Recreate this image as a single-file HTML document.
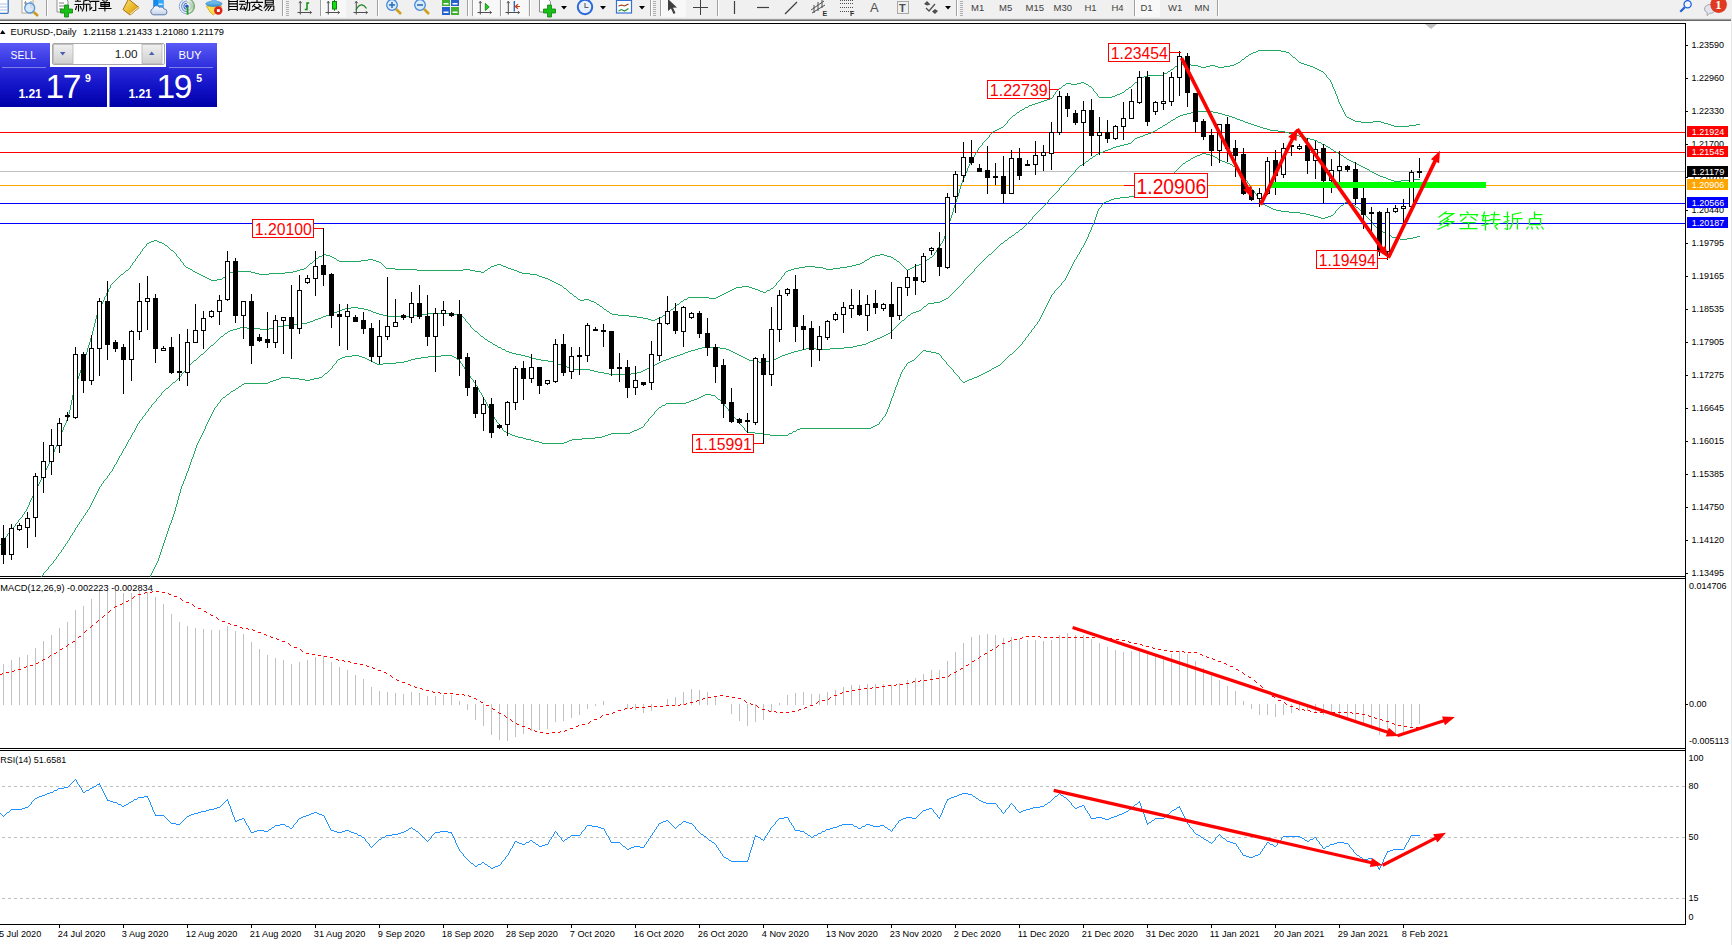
<!DOCTYPE html>
<html><head><meta charset="utf-8"><title>EURUSD Daily</title>
<style>
html,body{margin:0;padding:0;background:#fff;overflow:hidden}
svg{display:block;font-family:"Liberation Sans",sans-serif}
</style></head><body>
<svg width="1732" height="945" viewBox="0 0 1732 945">
<rect x="0" y="0" width="1732" height="945" fill="#fff" />
<rect x="0" y="0" width="1732" height="18" fill="#f0f0f0" />
<rect x="0" y="18" width="1731" height="1" fill="#e3e3e3" />
<rect x="0" y="19" width="1731" height="1" fill="#a0a0a0" />
<rect x="0" y="20" width="1731" height="1" fill="#696969" />
<rect x="1731" y="18" width="1" height="927" fill="#e8e8e8" />
<g shape-rendering="crispEdges">
<rect x="0" y="23" width="1686" height="1" fill="#000" />
<rect x="0" y="576" width="1686" height="1" fill="#000" />
<rect x="0" y="578" width="1686" height="1" fill="#000" />
<rect x="0" y="748" width="1686" height="1" fill="#000" />
<rect x="0" y="750" width="1686" height="1" fill="#000" />
<rect x="0" y="924" width="1686" height="1" fill="#000" />
<rect x="1685" y="23" width="1" height="902" fill="#000" />
<rect x="0" y="132" width="1685" height="1" fill="#ff0000" />
<rect x="0" y="152" width="1685" height="1" fill="#ff0000" />
<rect x="0" y="171" width="1685" height="1" fill="#c0c0c0" />
<rect x="0" y="185" width="1685" height="1" fill="#ffa500" />
<rect x="0" y="203" width="1685" height="1" fill="#0000ff" />
<rect x="0" y="223" width="1685" height="1" fill="#0000ff" />
</g>
<g shape-rendering="crispEdges">
<path d="M0.5,544v1M1.5,542v2M2.5,541v1M3.5,540v1M4.5,538v2M5.5,537v1M6.5,536v1M7.5,534v2M8.5,533v1M9.5,532v1M10.5,531v1M11.5,529v2M12.5,528v1M13.5,527v1M14.5,526v1M15.5,524v2M16.5,523v1M17.5,522v1M18.5,520v2M19.5,519v1M20.5,518v1M21.5,517v1M22.5,515v2M23.5,514v1M24.5,512v2M25.5,511v1M26.5,509v2M27.5,507v2M28.5,505v2M29.5,502v3M30.5,500v2M31.5,498v2M32.5,496v2M33.5,494v2M34.5,492v2M35.5,490v2M36.5,488v2M37.5,486v2M38.5,484v2M39.5,482v2M40.5,480v2M41.5,478v2M42.5,476v2M43.5,474v2M44.5,472v2M45.5,470v2M46.5,468v2M47.5,466v2M48.5,464v2M49.5,462v2M50.5,459v3M51.5,457v2M52.5,454v3M53.5,452v2M54.5,449v3M55.5,447v2M56.5,445v2M57.5,442v3M58.5,440v2M59.5,437v3M60.5,435v2M61.5,432v3M62.5,430v2M63.5,427v3M64.5,425v2M65.5,423v2M66.5,420v3M67.5,418v2M68.5,414v4M69.5,410v4M70.5,405v5M71.5,400v5M72.5,395v5M73.5,391v4M74.5,387v4M75.5,384v3M76.5,382v2M77.5,379v3M78.5,376v3M79.5,373v3M80.5,370v3M81.5,368v2M82.5,365v3M83.5,362v3M84.5,358v4M85.5,355v3M86.5,352v3M87.5,348v4M88.5,345v3M89.5,342v3M90.5,338v4M91.5,335v3M92.5,331v4M93.5,327v4M94.5,323v4M95.5,319v4M96.5,315v4M97.5,312v3M98.5,310v2M99.5,308v2M100.5,306v2M101.5,304v2M102.5,302v2M103.5,300v2M104.5,297v3M105.5,296v1M106.5,293v3M107.5,292v1M108.5,289v3M109.5,288v1M110.5,285v3M111.5,284v1M112.5,283v1M113.5,282v1M114.5,281v1M115.5,280v1M116.5,279v1M117.5,278v1M118.5,277v1M119.5,276v1M120.5,275v1M123.5,273v1M124.5,272v1M125.5,271v1M128.5,269v1M129.5,268v1M130.5,266v2M131.5,265v1M132.5,263v2M133.5,262v1M134.5,261v1M135.5,259v2M136.5,258v1M137.5,256v2M138.5,255v1M139.5,254v1M140.5,252v2M141.5,251v1M142.5,249v2M143.5,248v1M144.5,247v1M145.5,246v1M146.5,244v2M164.5,244v1M167.5,246v1M168.5,247v1M169.5,248v1M170.5,249v1M173.5,251v1M174.5,252v1M175.5,253v1M176.5,254v2M177.5,256v1M178.5,257v1M179.5,258v1M180.5,259v2M181.5,261v1M182.5,262v1M183.5,263v2M184.5,265v1M185.5,266v1M192.5,270v1M222.5,278v1M225.5,276v1M226.5,275v1M229.5,273v1M306.5,267v1M307.5,266v1M308.5,265v1M309.5,264v1M312.5,262v1M313.5,261v1M314.5,260v1M315.5,259v1M318.5,257v1M322.5,255v1M336.5,259v1M381.5,263v1M382.5,264v1M383.5,265v1M384.5,266v1M385.5,267v1M484.5,271v1M487.5,269v1M490.5,267v1M562.5,286v1M563.5,287v1M566.5,289v1M567.5,290v1M568.5,291v1M569.5,292v1M572.5,294v1M573.5,295v1M576.5,297v1M577.5,298v1M596.5,303v1M599.5,305v1M602.5,307v1M603.5,308v1M606.5,310v1M609.5,312v1M662.5,316v1M665.5,314v1M668.5,312v1M669.5,311v1M670.5,310v1M673.5,308v1M674.5,307v1M675.5,306v1M676.5,305v1M679.5,303v1M680.5,302v1M683.5,300v1M687.5,298v1M766.5,291v1M770.5,289v1M773.5,287v1M774.5,286v1M775.5,285v1M776.5,283v2M777.5,282v1M778.5,281v1M779.5,280v1M780.5,279v1M781.5,277v2M782.5,276v1M783.5,275v1M784.5,273v2M785.5,272v1M864.5,261v1M869.5,258v1M893.5,258v1M896.5,260v1M899.5,262v1M900.5,263v1M901.5,264v1M902.5,265v1M903.5,266v1M904.5,267v1M905.5,268v1M906.5,269v1M907.5,270v1M925.5,261v1M926.5,260v1M929.5,258v1M932.5,256v1M933.5,255v1M934.5,253v2M935.5,252v1M936.5,250v2M937.5,249v1M938.5,247v2M939.5,246v1M940.5,244v2M941.5,243v1M942.5,241v2M943.5,239v2M944.5,236v3M945.5,233v3M946.5,230v3M947.5,227v3M948.5,224v3M949.5,221v3M950.5,218v3M951.5,215v3M952.5,212v3M953.5,208v4M954.5,205v3M955.5,202v3M956.5,199v3M957.5,196v3M958.5,193v3M959.5,189v4M960.5,186v3M961.5,183v3M962.5,180v3M963.5,178v2M964.5,175v3M965.5,173v2M966.5,171v2M967.5,168v3M968.5,166v2M969.5,164v2M970.5,162v2M971.5,160v2M972.5,159v1M973.5,157v2M974.5,155v2M975.5,153v2M976.5,152v1M977.5,150v2M978.5,148v2M979.5,147v1M980.5,146v1M981.5,145v1M982.5,143v2M983.5,142v1M984.5,141v1M985.5,140v1M986.5,139v1M987.5,138v1M988.5,137v1M989.5,135v2M990.5,134v1M991.5,133v1M992.5,132v1M1003.5,126v1M1004.5,125v1M1005.5,124v1M1006.5,123v1M1007.5,121v2M1008.5,120v1M1009.5,119v1M1010.5,118v1M1011.5,117v1M1012.5,116v1M1015.5,114v1M1016.5,113v1M1019.5,111v1M1024.5,108v1M1028.5,106v1M1052.5,97v1M1053.5,95v2M1054.5,94v1M1055.5,92v2M1056.5,91v1M1057.5,90v1M1058.5,89v1M1061.5,87v1M1062.5,86v1M1065.5,84v1M1088.5,85v1M1091.5,87v1M1092.5,88v1M1093.5,89v2M1094.5,91v1M1095.5,92v1M1096.5,93v1M1097.5,94v2M1098.5,96v1M1124.5,91v1M1125.5,90v1M1128.5,88v1M1131.5,86v1M1132.5,85v1M1133.5,84v1M1134.5,83v1M1137.5,81v1M1138.5,80v1M1139.5,79v1M1163.5,74v1M1167.5,72v1M1170.5,70v1M1173.5,68v1M1174.5,67v1M1177.5,65v1M1240.5,61v1M1241.5,60v1M1244.5,58v1M1245.5,57v1M1248.5,55v1M1289.5,53v1M1290.5,54v1M1291.5,55v1M1292.5,56v1M1295.5,58v1M1296.5,59v1M1297.5,60v1M1298.5,61v1M1323.5,72v1M1324.5,73v1M1325.5,74v1M1326.5,75v2M1327.5,77v1M1328.5,78v1M1329.5,79v1M1330.5,80v2M1331.5,82v2M1332.5,84v3M1333.5,87v2M1334.5,89v2M1335.5,91v3M1336.5,94v2M1337.5,96v3M1338.5,99v3M1339.5,102v2M1340.5,104v2M1341.5,106v2M1342.5,108v2M1343.5,110v2M1344.5,112v2M1345.5,114v2M1346.5,116v1M1258,50.5h23M1256,51.5h2M1281,51.5h5M1253,52.5h3M1286,52.5h3M1251,53.5h2M1249,54.5h2M1246,56.5h2M1293,57.5h2M1242,59.5h2M1238,62.5h2M1299,62.5h2M1236,63.5h2M1301,63.5h3M1178,64.5h13M1234,64.5h2M1304,64.5h3M1191,65.5h7M1210,65.5h5M1230,65.5h4M1307,65.5h3M1175,66.5h2M1198,66.5h3M1206,66.5h4M1215,66.5h3M1224,66.5h6M1310,66.5h3M1201,67.5h5M1218,67.5h6M1313,67.5h2M1315,68.5h2M1171,69.5h2M1317,69.5h2M1319,70.5h2M1168,71.5h2M1321,71.5h2M1164,73.5h3M1147,75.5h16M1144,76.5h3M1142,77.5h2M1140,78.5h2M1081,82.5h3M1135,82.5h2M1066,83.5h5M1077,83.5h4M1084,83.5h2M1071,84.5h6M1086,84.5h2M1063,85.5h2M1089,86.5h2M1129,87.5h2M1059,88.5h2M1126,89.5h2M1122,92.5h2M1120,93.5h2M1117,94.5h3M1115,95.5h2M1112,96.5h3M1099,97.5h13M1050,98.5h2M1047,99.5h3M1044,100.5h3M1041,101.5h3M1038,102.5h3M1035,103.5h3M1032,104.5h3M1029,105.5h3M1025,107.5h3M1022,109.5h2M1020,110.5h2M1017,112.5h2M1013,115.5h2M1347,117.5h2M1349,118.5h2M1351,119.5h2M1353,120.5h2M1355,121.5h6M1373,121.5h8M1361,122.5h12M1381,122.5h3M1384,123.5h4M1388,124.5h3M1416,124.5h4M1391,125.5h3M1409,125.5h7M1394,126.5h15M1001,127.5h2M999,128.5h2M997,129.5h2M995,130.5h2M993,131.5h2M154,240.5h3M151,241.5h3M157,241.5h2M149,242.5h2M159,242.5h3M147,243.5h2M162,243.5h2M165,245.5h2M171,250.5h2M323,254.5h3M880,254.5h4M326,255.5h4M875,255.5h5M884,255.5h3M319,256.5h3M330,256.5h2M872,256.5h3M887,256.5h4M332,257.5h2M870,257.5h2M891,257.5h2M930,257.5h2M316,258.5h2M334,258.5h2M368,259.5h5M867,259.5h2M894,259.5h2M927,259.5h2M337,260.5h2M361,260.5h7M373,260.5h3M865,260.5h2M339,261.5h22M376,261.5h3M897,261.5h2M379,262.5h2M862,262.5h2M923,262.5h2M310,263.5h2M860,263.5h2M921,263.5h2M497,264.5h4M856,264.5h4M919,264.5h2M494,265.5h3M501,265.5h2M852,265.5h4M916,265.5h3M491,266.5h3M503,266.5h3M805,266.5h10M847,266.5h5M914,266.5h2M186,267.5h2M506,267.5h2M799,267.5h6M815,267.5h8M840,267.5h7M912,267.5h2M188,268.5h2M304,268.5h2M386,268.5h9M488,268.5h2M508,268.5h3M794,268.5h5M823,268.5h3M833,268.5h7M910,268.5h2M190,269.5h2M300,269.5h4M395,269.5h22M463,269.5h7M511,269.5h3M791,269.5h3M826,269.5h7M908,269.5h2M126,270.5h2M297,270.5h3M417,270.5h46M470,270.5h5M485,270.5h2M514,270.5h3M788,270.5h3M193,271.5h2M235,271.5h16M293,271.5h4M475,271.5h6M517,271.5h2M786,271.5h2M195,272.5h2M230,272.5h5M251,272.5h4M285,272.5h8M481,272.5h3M519,272.5h3M197,273.5h2M255,273.5h4M269,273.5h16M522,273.5h8M121,274.5h2M199,274.5h2M227,274.5h2M259,274.5h10M530,274.5h7M201,275.5h2M537,275.5h2M203,276.5h2M539,276.5h3M205,277.5h2M223,277.5h2M542,277.5h3M207,278.5h2M545,278.5h3M209,279.5h2M217,279.5h5M548,279.5h2M211,280.5h6M550,280.5h2M552,281.5h2M554,282.5h2M556,283.5h2M558,284.5h2M560,285.5h2M742,286.5h7M736,287.5h6M749,287.5h3M564,288.5h2M734,288.5h2M752,288.5h3M771,288.5h2M732,289.5h2M755,289.5h3M730,290.5h2M758,290.5h2M767,290.5h3M728,291.5h2M760,291.5h3M726,292.5h2M763,292.5h3M570,293.5h2M724,293.5h2M722,294.5h2M720,295.5h2M574,296.5h2M718,296.5h2M688,297.5h21M716,297.5h2M709,298.5h7M578,299.5h2M584,299.5h5M684,299.5h3M580,300.5h4M589,300.5h2M591,301.5h3M681,301.5h2M594,302.5h2M597,304.5h2M677,304.5h2M600,306.5h2M604,309.5h2M671,309.5h2M607,311.5h2M610,313.5h2M666,313.5h2M612,314.5h6M618,315.5h11M663,315.5h2M629,316.5h8M637,317.5h6M660,317.5h2M643,318.5h5M657,318.5h3M648,319.5h3M655,319.5h2M651,320.5h4" fill="none" stroke="#23a862" stroke-width="1"/>
<path d="M41.5,576v1M42.5,575v1M43.5,573v2M44.5,572v1M45.5,571v1M46.5,570v1M47.5,569v1M48.5,567v2M49.5,566v1M50.5,565v1M51.5,564v1M52.5,563v1M53.5,561v2M54.5,560v1M55.5,559v1M56.5,557v2M57.5,556v1M58.5,554v2M59.5,553v1M60.5,552v1M61.5,550v2M62.5,549v1M63.5,547v2M64.5,546v1M65.5,544v2M66.5,543v1M67.5,541v2M68.5,540v1M69.5,538v2M70.5,536v2M71.5,535v1M72.5,533v2M73.5,532v1M74.5,530v2M75.5,528v2M76.5,527v1M77.5,525v2M78.5,524v1M79.5,522v2M80.5,521v1M81.5,519v2M82.5,518v1M83.5,516v2M84.5,515v1M85.5,513v2M86.5,512v1M87.5,510v2M88.5,509v1M89.5,507v2M90.5,505v2M91.5,503v2M92.5,501v2M93.5,499v2M94.5,497v2M95.5,495v2M96.5,493v2M97.5,491v2M98.5,489v2M99.5,487v2M100.5,486v1M101.5,484v2M102.5,483v1M103.5,481v2M104.5,480v1M105.5,479v1M106.5,478v1M107.5,476v2M108.5,475v1M109.5,473v2M110.5,472v1M111.5,471v1M112.5,469v2M113.5,467v2M114.5,465v2M115.5,464v1M116.5,462v2M117.5,460v2M118.5,458v2M119.5,456v2M120.5,455v1M121.5,453v2M122.5,451v2M123.5,449v2M124.5,448v1M125.5,446v2M126.5,444v2M127.5,442v2M128.5,440v2M129.5,439v1M130.5,437v2M131.5,435v2M132.5,433v2M133.5,432v1M134.5,430v2M135.5,428v2M136.5,426v2M137.5,424v2M138.5,423v1M139.5,421v2M140.5,420v1M141.5,419v1M142.5,417v2M143.5,416v1M144.5,415v1M145.5,413v2M146.5,412v1M147.5,411v1M148.5,409v2M149.5,408v1M150.5,407v1M151.5,405v2M152.5,404v1M153.5,403v1M154.5,402v1M155.5,401v1M156.5,399v2M157.5,398v1M158.5,397v1M159.5,396v1M160.5,395v1M161.5,393v2M162.5,392v1M163.5,391v1M164.5,390v1M165.5,389v1M168.5,387v1M169.5,386v1M170.5,385v1M171.5,384v1M172.5,383v1M175.5,381v1M176.5,380v1M177.5,379v1M178.5,378v1M179.5,377v1M180.5,376v1M181.5,374v2M182.5,373v1M183.5,372v1M184.5,371v1M185.5,370v1M186.5,369v1M187.5,367v2M188.5,366v1M189.5,365v1M190.5,364v1M191.5,363v1M192.5,362v1M193.5,361v1M196.5,359v1M197.5,358v1M198.5,357v1M199.5,356v1M200.5,355v1M203.5,353v1M204.5,352v1M205.5,351v1M206.5,350v1M207.5,349v1M208.5,348v1M209.5,347v1M210.5,346v1M213.5,344v1M214.5,343v1M215.5,342v1M216.5,341v1M217.5,340v1M218.5,339v1M219.5,338v1M220.5,337v1M223.5,335v1M224.5,334v1M227.5,332v1M463.5,317v1M464.5,318v1M465.5,319v2M466.5,321v1M467.5,322v1M468.5,323v1M469.5,324v1M470.5,325v2M471.5,327v1M472.5,328v1M473.5,329v1M474.5,330v1M477.5,332v1M478.5,333v1M479.5,334v1M480.5,335v1M483.5,337v1M484.5,338v1M487.5,340v1M492.5,343v1M497.5,346v1M501.5,348v1M505.5,350v1M890.5,332v1M891.5,331v1M892.5,330v1M893.5,329v1M894.5,328v1M895.5,327v1M896.5,326v1M897.5,325v1M898.5,324v1M899.5,323v1M900.5,322v1M901.5,321v1M904.5,319v1M905.5,318v1M906.5,317v1M907.5,316v1M910.5,314v1M921.5,309v1M922.5,308v1M923.5,307v1M926.5,305v1M927.5,304v1M948.5,297v1M949.5,296v1M950.5,295v1M951.5,294v1M952.5,293v1M953.5,292v1M954.5,291v1M955.5,290v1M956.5,289v1M957.5,288v1M958.5,287v1M959.5,286v1M960.5,285v1M961.5,284v1M962.5,283v1M963.5,281v2M964.5,280v1M965.5,279v1M966.5,278v1M967.5,277v1M968.5,276v1M969.5,275v1M970.5,274v1M971.5,273v1M972.5,272v1M973.5,271v1M974.5,269v2M975.5,268v1M976.5,267v1M977.5,266v1M978.5,265v1M979.5,264v1M980.5,263v1M981.5,262v1M982.5,261v1M983.5,260v1M984.5,259v1M985.5,258v1M986.5,257v1M987.5,256v1M988.5,255v1M991.5,253v1M992.5,252v1M993.5,251v1M994.5,250v1M995.5,249v1M996.5,248v1M997.5,247v1M998.5,246v1M999.5,245v1M1000.5,244v1M1003.5,242v1M1004.5,241v1M1007.5,239v1M1008.5,238v1M1011.5,236v1M1014.5,234v1M1015.5,233v1M1018.5,231v1M1019.5,230v1M1022.5,228v1M1023.5,227v1M1024.5,226v1M1025.5,225v1M1026.5,224v1M1027.5,223v1M1028.5,222v1M1029.5,221v1M1030.5,220v1M1031.5,219v1M1032.5,217v2M1033.5,216v1M1034.5,215v1M1035.5,214v1M1036.5,213v1M1037.5,212v1M1038.5,211v1M1039.5,210v1M1040.5,209v1M1041.5,208v1M1042.5,207v1M1043.5,206v1M1044.5,205v1M1045.5,204v1M1046.5,203v1M1047.5,202v1M1048.5,200v2M1049.5,199v1M1050.5,198v1M1051.5,197v1M1052.5,196v1M1053.5,195v1M1054.5,194v1M1055.5,193v1M1056.5,192v1M1057.5,191v1M1058.5,190v1M1059.5,188v2M1060.5,187v1M1061.5,186v1M1062.5,185v1M1063.5,184v1M1064.5,183v1M1065.5,182v1M1066.5,181v1M1067.5,180v1M1068.5,178v2M1069.5,177v1M1070.5,176v1M1071.5,175v1M1072.5,174v1M1073.5,173v1M1074.5,172v1M1075.5,170v2M1076.5,169v1M1077.5,168v1M1078.5,167v1M1079.5,166v1M1082.5,164v1M1085.5,162v1M1088.5,160v1M1089.5,159v1M1092.5,157v1M1095.5,155v1M1131.5,142v1M1132.5,141v1M1133.5,140v1M1134.5,139v1M1157.5,129v1M1162.5,126v1M1167.5,123v1M1170.5,121v1M1175.5,118v1M1317.5,141v1M1321.5,143v1M1325.5,145v1M1330.5,148v1M1333.5,150v1M1338.5,153v1M1343.5,156v1M1346.5,158v1M1369.5,170v1M1197,111.5h16M1191,112.5h6M1213,112.5h5M1187,113.5h4M1218,113.5h4M1183,114.5h4M1222,114.5h3M1180,115.5h3M1225,115.5h4M1178,116.5h2M1229,116.5h3M1176,117.5h2M1232,117.5h3M1235,118.5h2M1173,119.5h2M1237,119.5h3M1171,120.5h2M1240,120.5h3M1243,121.5h2M1168,122.5h2M1245,122.5h3M1248,123.5h3M1165,124.5h2M1251,124.5h3M1163,125.5h2M1254,125.5h3M1257,126.5h3M1160,127.5h2M1260,127.5h3M1158,128.5h2M1263,128.5h4M1267,129.5h3M1155,130.5h2M1270,130.5h8M1153,131.5h2M1278,131.5h7M1151,132.5h2M1285,132.5h4M1148,133.5h3M1289,133.5h3M1145,134.5h3M1292,134.5h4M1143,135.5h2M1296,135.5h3M1140,136.5h3M1299,136.5h4M1137,137.5h3M1303,137.5h3M1135,138.5h2M1306,138.5h4M1310,139.5h4M1314,140.5h3M1318,142.5h3M1128,143.5h3M1124,144.5h4M1322,144.5h3M1120,145.5h4M1116,146.5h4M1326,146.5h2M1113,147.5h3M1328,147.5h2M1111,148.5h2M1108,149.5h3M1331,149.5h2M1105,150.5h3M1103,151.5h2M1334,151.5h2M1100,152.5h3M1336,152.5h2M1098,153.5h2M1096,154.5h2M1339,154.5h2M1341,155.5h2M1093,156.5h2M1344,157.5h2M1090,158.5h2M1347,159.5h2M1349,160.5h2M1086,161.5h2M1351,161.5h2M1353,162.5h2M1083,163.5h2M1355,163.5h2M1357,164.5h2M1080,165.5h2M1359,165.5h2M1361,166.5h2M1363,167.5h2M1365,168.5h2M1367,169.5h2M1370,171.5h2M1372,172.5h2M1374,173.5h2M1376,174.5h2M1378,175.5h2M1380,176.5h3M1383,177.5h3M1386,178.5h2M1388,179.5h3M1413,179.5h7M1391,180.5h3M1401,180.5h12M1394,181.5h7M1020,229.5h2M1016,232.5h2M1012,235.5h2M1009,237.5h2M1005,240.5h2M1001,243.5h2M989,254.5h2M946,298.5h2M944,299.5h2M942,300.5h2M940,301.5h2M934,302.5h6M928,303.5h6M924,306.5h2M351,307.5h7M345,308.5h6M358,308.5h6M342,309.5h3M364,309.5h4M340,310.5h2M368,310.5h3M919,310.5h2M337,311.5h3M371,311.5h2M916,311.5h3M334,312.5h3M373,312.5h3M913,312.5h3M331,313.5h3M376,313.5h3M427,313.5h26M911,313.5h2M329,314.5h2M379,314.5h4M420,314.5h7M453,314.5h4M326,315.5h3M383,315.5h4M410,315.5h10M457,315.5h4M908,315.5h2M323,316.5h3M387,316.5h23M461,316.5h2M321,317.5h2M318,318.5h3M315,319.5h3M313,320.5h2M902,320.5h2M310,321.5h3M307,322.5h3M300,323.5h7M291,324.5h9M284,325.5h7M278,326.5h6M240,327.5h7M273,327.5h5M237,328.5h3M247,328.5h13M269,328.5h4M233,329.5h4M260,329.5h9M230,330.5h3M228,331.5h2M475,331.5h2M225,333.5h2M888,333.5h2M886,334.5h2M884,335.5h2M221,336.5h2M481,336.5h2M882,336.5h2M880,337.5h2M877,338.5h3M485,339.5h2M875,339.5h2M873,340.5h2M488,341.5h2M870,341.5h3M490,342.5h2M868,342.5h2M866,343.5h2M493,344.5h2M862,344.5h4M211,345.5h2M495,345.5h2M857,345.5h5M853,346.5h4M498,347.5h3M702,347.5h18M844,347.5h9M698,348.5h4M720,348.5h6M806,348.5h10M830,348.5h14M502,349.5h3M695,349.5h3M726,349.5h3M802,349.5h4M816,349.5h14M691,350.5h4M729,350.5h2M798,350.5h4M506,351.5h3M688,351.5h3M731,351.5h2M794,351.5h4M509,352.5h3M685,352.5h3M733,352.5h2M791,352.5h3M512,353.5h4M683,353.5h2M735,353.5h2M788,353.5h3M201,354.5h2M516,354.5h5M680,354.5h3M737,354.5h2M785,354.5h3M521,355.5h4M677,355.5h3M739,355.5h2M782,355.5h3M525,356.5h4M674,356.5h3M741,356.5h2M780,356.5h2M529,357.5h3M671,357.5h3M743,357.5h2M778,357.5h2M532,358.5h4M669,358.5h2M745,358.5h2M776,358.5h2M536,359.5h5M666,359.5h3M747,359.5h2M774,359.5h2M194,360.5h2M541,360.5h7M663,360.5h3M749,360.5h4M770,360.5h4M548,361.5h5M661,361.5h2M753,361.5h6M764,361.5h6M553,362.5h3M659,362.5h2M759,362.5h5M556,363.5h2M657,363.5h2M558,364.5h3M655,364.5h2M561,365.5h3M653,365.5h2M564,366.5h3M651,366.5h2M567,367.5h2M649,367.5h2M569,368.5h3M647,368.5h2M572,369.5h18M645,369.5h2M590,370.5h4M643,370.5h2M594,371.5h4M641,371.5h2M598,372.5h6M637,372.5h4M604,373.5h5M631,373.5h6M609,374.5h22M173,382.5h2M166,388.5h2" fill="none" stroke="#23a862" stroke-width="1"/>
<path d="M150.5,575v2M151.5,573v2M152.5,571v2M153.5,569v2M154.5,567v2M155.5,565v2M156.5,563v2M157.5,561v2M158.5,558v3M159.5,555v3M160.5,552v3M161.5,549v3M162.5,546v3M163.5,543v3M164.5,540v3M165.5,537v3M166.5,534v3M167.5,531v3M168.5,528v3M169.5,525v3M170.5,523v2M171.5,520v3M172.5,517v3M173.5,514v3M174.5,511v3M175.5,507v4M176.5,504v3M177.5,500v4M178.5,496v4M179.5,493v3M180.5,489v4M181.5,486v3M182.5,484v2M183.5,481v3M184.5,479v2M185.5,476v3M186.5,473v3M187.5,471v2M188.5,468v3M189.5,465v3M190.5,462v3M191.5,459v3M192.5,457v2M193.5,454v3M194.5,451v3M195.5,448v3M196.5,445v3M197.5,443v2M198.5,441v2M199.5,439v2M200.5,437v2M201.5,435v2M202.5,433v2M203.5,431v2M204.5,429v2M205.5,426v3M206.5,424v2M207.5,422v2M208.5,420v2M209.5,418v2M210.5,416v2M211.5,414v2M212.5,412v2M213.5,410v2M214.5,408v2M215.5,407v1M216.5,406v1M217.5,404v2M218.5,403v1M219.5,402v1M220.5,400v2M221.5,399v1M222.5,398v1M225.5,396v1M226.5,395v1M229.5,393v1M230.5,392v1M235.5,389v1M238.5,387v1M241.5,385v1M322.5,376v1M323.5,375v1M324.5,374v1M327.5,372v1M328.5,371v1M329.5,370v1M330.5,369v1M331.5,368v1M332.5,366v2M333.5,365v1M334.5,364v1M335.5,363v1M336.5,361v2M337.5,360v1M456.5,358v1M459.5,360v1M460.5,361v2M461.5,363v1M462.5,364v2M463.5,366v1M464.5,367v2M465.5,369v1M466.5,370v2M467.5,372v1M468.5,373v2M469.5,375v1M470.5,376v2M471.5,378v1M472.5,379v1M473.5,380v2M474.5,382v1M475.5,383v2M476.5,385v1M477.5,386v2M478.5,388v2M479.5,390v2M480.5,392v1M481.5,393v2M482.5,395v2M483.5,397v2M484.5,399v1M485.5,400v2M486.5,402v2M487.5,404v2M488.5,406v2M489.5,408v1M490.5,409v2M491.5,411v2M492.5,413v2M493.5,415v2M494.5,417v2M495.5,419v1M496.5,420v2M497.5,422v1M498.5,423v1M499.5,424v2M500.5,426v1M501.5,427v1M502.5,428v2M503.5,430v1M643.5,426v1M644.5,424v2M645.5,423v1M646.5,422v1M647.5,421v1M648.5,419v2M649.5,418v1M650.5,417v1M651.5,416v1M652.5,415v1M653.5,414v1M654.5,412v2M655.5,411v1M656.5,410v1M657.5,409v1M658.5,408v1M661.5,406v1M665.5,404v1M715.5,396v1M716.5,397v1M717.5,398v1M720.5,400v1M721.5,401v1M722.5,402v1M723.5,403v1M724.5,404v2M725.5,406v1M726.5,407v1M727.5,408v1M728.5,409v2M729.5,411v1M730.5,412v1M731.5,413v1M732.5,414v2M733.5,416v1M734.5,417v1M735.5,418v1M736.5,419v1M737.5,420v1M738.5,421v2M739.5,423v1M740.5,424v1M741.5,425v1M742.5,426v1M743.5,427v1M744.5,428v2M745.5,430v1M746.5,431v1M788.5,434v1M792.5,432v1M796.5,430v1M879.5,422v2M880.5,421v1M881.5,420v1M882.5,418v2M883.5,417v1M884.5,416v1M885.5,414v2M886.5,412v2M887.5,409v3M888.5,407v2M889.5,404v3M890.5,401v3M891.5,398v3M892.5,396v2M893.5,393v3M894.5,390v3M895.5,387v3M896.5,385v2M897.5,382v3M898.5,379v3M899.5,377v2M900.5,374v3M901.5,372v2M902.5,370v2M903.5,369v1M904.5,367v2M905.5,366v1M906.5,364v2M907.5,363v1M914.5,359v1M915.5,358v1M916.5,357v1M917.5,356v1M918.5,355v1M919.5,354v1M920.5,353v1M921.5,352v1M922.5,351v1M939.5,354v1M940.5,355v1M941.5,356v2M942.5,358v1M943.5,359v1M944.5,360v1M945.5,361v1M946.5,362v2M947.5,364v1M948.5,365v1M949.5,366v1M950.5,367v1M951.5,368v1M952.5,369v1M953.5,370v2M954.5,372v1M955.5,373v1M956.5,374v1M957.5,375v1M958.5,376v1M959.5,377v2M960.5,379v1M961.5,380v1M962.5,381v1M991.5,369v1M1000.5,364v1M1001.5,363v1M1002.5,362v1M1003.5,361v1M1004.5,360v1M1005.5,359v1M1006.5,358v1M1007.5,357v1M1008.5,356v1M1009.5,355v1M1012.5,353v1M1013.5,352v1M1014.5,351v1M1015.5,350v1M1016.5,349v1M1017.5,348v1M1018.5,347v1M1019.5,346v1M1020.5,345v1M1021.5,344v1M1022.5,342v2M1023.5,341v1M1024.5,340v1M1025.5,338v2M1026.5,337v1M1027.5,336v1M1028.5,334v2M1029.5,333v1M1030.5,332v1M1031.5,330v2M1032.5,329v1M1033.5,328v1M1034.5,326v2M1035.5,325v1M1036.5,324v1M1037.5,322v2M1038.5,321v1M1039.5,319v2M1040.5,317v2M1041.5,315v2M1042.5,313v2M1043.5,311v2M1044.5,309v2M1045.5,307v2M1046.5,305v2M1047.5,303v2M1048.5,301v2M1049.5,299v2M1050.5,297v2M1051.5,295v2M1052.5,294v1M1053.5,293v1M1054.5,291v2M1055.5,290v1M1056.5,289v1M1057.5,288v1M1058.5,287v1M1059.5,286v1M1060.5,285v1M1061.5,283v2M1062.5,282v1M1063.5,281v1M1064.5,280v1M1065.5,278v2M1066.5,276v2M1067.5,274v2M1068.5,272v2M1069.5,270v2M1070.5,268v2M1071.5,266v2M1072.5,264v2M1073.5,262v2M1074.5,260v2M1075.5,259v1M1076.5,257v2M1077.5,255v2M1078.5,254v1M1079.5,252v2M1080.5,250v2M1081.5,248v2M1082.5,247v1M1083.5,245v2M1084.5,243v2M1085.5,241v2M1086.5,239v2M1087.5,237v2M1088.5,234v3M1089.5,232v2M1090.5,230v2M1091.5,227v3M1092.5,225v2M1093.5,223v2M1094.5,220v3M1095.5,217v3M1096.5,214v3M1097.5,211v3M1098.5,209v2M1099.5,208v1M1100.5,207v1M1101.5,205v2M1102.5,204v1M1103.5,203v1M1151.5,189v1M1154.5,187v1M1157.5,185v1M1158.5,184v1M1159.5,183v1M1162.5,181v1M1165.5,179v1M1166.5,178v1M1167.5,177v1M1170.5,175v1M1173.5,173v1M1174.5,172v1M1175.5,171v1M1176.5,170v1M1177.5,169v1M1178.5,168v1M1179.5,167v1M1180.5,166v1M1181.5,165v1M1182.5,164v1M1185.5,162v1M1190.5,159v1M1217.5,158v1M1232.5,165v1M1235.5,167v1M1236.5,168v1M1237.5,169v1M1240.5,171v1M1241.5,172v1M1242.5,173v2M1243.5,175v1M1244.5,176v2M1245.5,178v2M1246.5,180v1M1247.5,181v2M1248.5,183v1M1249.5,184v2M1250.5,186v1M1251.5,187v2M1252.5,189v1M1253.5,190v1M1254.5,191v2M1255.5,193v1M1256.5,194v2M1257.5,196v1M1258.5,197v2M1259.5,199v1M1260.5,200v1M1261.5,201v2M1262.5,203v1M1333.5,214v1M1334.5,213v1M1335.5,211v2M1336.5,210v1M1337.5,209v1M1338.5,208v1M1339.5,207v1M1340.5,206v1M1343.5,204v1M1344.5,203v1M1352.5,204v1M1355.5,206v1M1358.5,208v1M1359.5,209v1M1360.5,210v1M1361.5,211v1M1362.5,212v1M1363.5,213v1M1364.5,214v1M1365.5,215v1M1366.5,216v1M1367.5,217v1M1368.5,218v1M1369.5,219v1M1370.5,220v1M1371.5,221v1M1372.5,222v2M1373.5,224v1M1374.5,225v1M1375.5,226v1M1376.5,227v1M1379.5,229v1M1382.5,231v1M1387.5,234v1M1391.5,236v1M1202,153.5h4M1200,154.5h2M1206,154.5h4M1197,155.5h3M1210,155.5h3M1195,156.5h2M1213,156.5h2M1193,157.5h2M1215,157.5h2M1191,158.5h2M1218,159.5h2M1188,160.5h2M1220,160.5h2M1186,161.5h2M1222,161.5h3M1225,162.5h2M1183,163.5h2M1227,163.5h3M1230,164.5h2M1233,166.5h2M1238,170.5h2M1171,174.5h2M1168,176.5h2M1163,180.5h2M1160,182.5h2M1155,186.5h2M1152,188.5h2M1149,190.5h2M1146,191.5h3M1143,192.5h3M1141,193.5h2M1138,194.5h3M1135,195.5h3M1129,196.5h6M1120,197.5h9M1114,198.5h6M1111,199.5h3M1109,200.5h2M1106,201.5h3M1104,202.5h2M1345,202.5h4M1349,203.5h3M1263,204.5h2M1265,205.5h2M1341,205.5h2M1353,205.5h2M1267,206.5h2M1269,207.5h2M1356,207.5h2M1271,208.5h2M1273,209.5h3M1276,210.5h5M1281,211.5h8M1289,212.5h11M1300,213.5h6M1306,214.5h4M1310,215.5h4M1331,215.5h2M1314,216.5h4M1328,216.5h3M1318,217.5h3M1325,217.5h3M1321,218.5h4M1377,228.5h2M1380,230.5h2M1383,232.5h2M1385,233.5h2M1388,235.5h3M1417,236.5h3M1392,237.5h4M1413,237.5h4M1396,238.5h4M1407,238.5h6M1400,239.5h7M923,350.5h3M926,351.5h5M931,352.5h5M936,353.5h3M1010,354.5h2M352,355.5h7M441,355.5h11M345,356.5h7M359,356.5h3M428,356.5h13M452,356.5h2M342,357.5h3M362,357.5h3M421,357.5h7M454,357.5h2M340,358.5h2M365,358.5h2M415,358.5h6M338,359.5h2M367,359.5h2M411,359.5h4M457,359.5h2M369,360.5h2M408,360.5h3M912,360.5h2M371,361.5h2M404,361.5h4M910,361.5h2M373,362.5h2M396,362.5h8M908,362.5h2M375,363.5h2M383,363.5h13M377,364.5h6M998,365.5h2M996,366.5h2M994,367.5h2M992,368.5h2M989,370.5h2M987,371.5h2M985,372.5h2M325,373.5h2M983,373.5h2M981,374.5h2M979,375.5h2M977,376.5h2M281,377.5h9M319,377.5h3M974,377.5h3M279,378.5h2M290,378.5h9M314,378.5h5M972,378.5h2M276,379.5h3M299,379.5h6M310,379.5h4M969,379.5h3M273,380.5h3M305,380.5h5M967,380.5h2M270,381.5h3M965,381.5h2M268,382.5h2M963,382.5h2M244,383.5h24M242,384.5h2M239,386.5h2M236,388.5h2M233,390.5h2M231,391.5h2M227,394.5h2M705,394.5h6M703,395.5h2M711,395.5h4M701,396.5h2M223,397.5h2M699,397.5h2M697,398.5h2M694,399.5h3M718,399.5h2M691,400.5h3M689,401.5h2M686,402.5h3M666,403.5h20M662,405.5h3M659,407.5h2M877,424.5h2M875,425.5h2M873,426.5h2M641,427.5h2M871,427.5h2M639,428.5h2M800,428.5h71M637,429.5h2M797,429.5h3M634,430.5h3M504,431.5h2M632,431.5h2M793,431.5h3M506,432.5h2M630,432.5h2M747,432.5h8M508,433.5h2M611,433.5h19M755,433.5h9M789,433.5h3M510,434.5h2M608,434.5h3M764,434.5h6M512,435.5h3M605,435.5h3M770,435.5h18M515,436.5h3M602,436.5h3M518,437.5h5M595,437.5h7M523,438.5h3M582,438.5h13M526,439.5h5M572,439.5h10M531,440.5h3M569,440.5h3M534,441.5h5M567,441.5h2M539,442.5h3M564,442.5h3M542,443.5h22" fill="none" stroke="#23a862" stroke-width="1"/>
</g>
<g shape-rendering="crispEdges">
<rect x="3" y="525" width="1" height="39" fill="#000" />
<rect x="1" y="538" width="5" height="17" fill="#000" />
<rect x="11" y="524" width="1" height="36" fill="#000" />
<rect x="9" y="528" width="5" height="27" fill="#000" />
<rect x="10" y="529" width="3" height="25" fill="#fff" />
<rect x="19" y="523" width="1" height="8" fill="#000" />
<rect x="17" y="525" width="5" height="5" fill="#000" />
<rect x="18" y="526" width="3" height="3" fill="#fff" />
<rect x="27" y="512" width="1" height="36" fill="#000" />
<rect x="25" y="518" width="5" height="10" fill="#000" />
<rect x="26" y="519" width="3" height="8" fill="#fff" />
<rect x="35" y="473" width="1" height="64" fill="#000" />
<rect x="33" y="476" width="5" height="42" fill="#000" />
<rect x="34" y="477" width="3" height="40" fill="#fff" />
<rect x="43" y="442" width="1" height="51" fill="#000" />
<rect x="41" y="461" width="5" height="17" fill="#000" />
<rect x="42" y="462" width="3" height="15" fill="#fff" />
<rect x="51" y="429" width="1" height="46" fill="#000" />
<rect x="49" y="445" width="5" height="17" fill="#000" />
<rect x="50" y="446" width="3" height="15" fill="#fff" />
<rect x="59" y="418" width="1" height="35" fill="#000" />
<rect x="57" y="423" width="5" height="23" fill="#000" />
<rect x="58" y="424" width="3" height="21" fill="#fff" />
<rect x="67" y="412" width="1" height="9" fill="#000" />
<rect x="65" y="415" width="5" height="2" fill="#000" />
<rect x="75" y="347" width="1" height="72" fill="#000" />
<rect x="73" y="354" width="5" height="64" fill="#000" />
<rect x="74" y="355" width="3" height="62" fill="#fff" />
<rect x="83" y="352" width="1" height="41" fill="#000" />
<rect x="81" y="354" width="5" height="27" fill="#000" />
<rect x="91" y="335" width="1" height="50" fill="#000" />
<rect x="89" y="348" width="5" height="33" fill="#000" />
<rect x="90" y="349" width="3" height="31" fill="#fff" />
<rect x="99" y="298" width="1" height="78" fill="#000" />
<rect x="97" y="301" width="5" height="48" fill="#000" />
<rect x="98" y="302" width="3" height="46" fill="#fff" />
<rect x="107" y="281" width="1" height="79" fill="#000" />
<rect x="105" y="301" width="5" height="44" fill="#000" />
<rect x="115" y="340" width="1" height="12" fill="#000" />
<rect x="113" y="342" width="5" height="7" fill="#000" />
<rect x="123" y="344" width="1" height="50" fill="#000" />
<rect x="121" y="347" width="5" height="13" fill="#000" />
<rect x="131" y="330" width="1" height="51" fill="#000" />
<rect x="129" y="331" width="5" height="29" fill="#000" />
<rect x="130" y="332" width="3" height="27" fill="#fff" />
<rect x="139" y="283" width="1" height="57" fill="#000" />
<rect x="137" y="301" width="5" height="31" fill="#000" />
<rect x="138" y="302" width="3" height="29" fill="#fff" />
<rect x="147" y="276" width="1" height="54" fill="#000" />
<rect x="145" y="298" width="5" height="4" fill="#000" />
<rect x="146" y="299" width="3" height="2" fill="#fff" />
<rect x="155" y="294" width="1" height="69" fill="#000" />
<rect x="153" y="298" width="5" height="51" fill="#000" />
<rect x="163" y="346" width="1" height="5" fill="#000" />
<rect x="161" y="348" width="5" height="3" fill="#000" />
<rect x="162" y="349" width="3" height="1" fill="#fff" />
<rect x="171" y="337" width="1" height="37" fill="#000" />
<rect x="169" y="347" width="5" height="26" fill="#000" />
<rect x="179" y="334" width="1" height="47" fill="#000" />
<rect x="177" y="371" width="5" height="2" fill="#000" />
<rect x="187" y="329" width="1" height="57" fill="#000" />
<rect x="185" y="342" width="5" height="31" fill="#000" />
<rect x="186" y="343" width="3" height="29" fill="#fff" />
<rect x="195" y="304" width="1" height="39" fill="#000" />
<rect x="193" y="330" width="5" height="13" fill="#000" />
<rect x="194" y="331" width="3" height="11" fill="#fff" />
<rect x="203" y="311" width="1" height="38" fill="#000" />
<rect x="201" y="318" width="5" height="13" fill="#000" />
<rect x="202" y="319" width="3" height="11" fill="#fff" />
<rect x="211" y="310" width="1" height="8" fill="#000" />
<rect x="209" y="311" width="5" height="6" fill="#000" />
<rect x="210" y="312" width="3" height="4" fill="#fff" />
<rect x="219" y="295" width="1" height="30" fill="#000" />
<rect x="217" y="300" width="5" height="12" fill="#000" />
<rect x="218" y="301" width="3" height="10" fill="#fff" />
<rect x="227" y="251" width="1" height="50" fill="#000" />
<rect x="225" y="261" width="5" height="39" fill="#000" />
<rect x="226" y="262" width="3" height="37" fill="#fff" />
<rect x="235" y="258" width="1" height="65" fill="#000" />
<rect x="233" y="261" width="5" height="55" fill="#000" />
<rect x="243" y="301" width="1" height="38" fill="#000" />
<rect x="241" y="301" width="5" height="15" fill="#000" />
<rect x="242" y="302" width="3" height="13" fill="#fff" />
<rect x="251" y="294" width="1" height="70" fill="#000" />
<rect x="249" y="301" width="5" height="45" fill="#000" />
<rect x="259" y="334" width="1" height="8" fill="#000" />
<rect x="257" y="337" width="5" height="4" fill="#000" />
<rect x="267" y="312" width="1" height="36" fill="#000" />
<rect x="265" y="339" width="5" height="4" fill="#000" />
<rect x="275" y="315" width="1" height="33" fill="#000" />
<rect x="273" y="320" width="5" height="23" fill="#000" />
<rect x="274" y="321" width="3" height="21" fill="#fff" />
<rect x="283" y="317" width="1" height="37" fill="#000" />
<rect x="281" y="317" width="5" height="4" fill="#000" />
<rect x="282" y="318" width="3" height="2" fill="#fff" />
<rect x="291" y="285" width="1" height="74" fill="#000" />
<rect x="289" y="317" width="5" height="12" fill="#000" />
<rect x="299" y="275" width="1" height="59" fill="#000" />
<rect x="297" y="290" width="5" height="39" fill="#000" />
<rect x="298" y="291" width="3" height="37" fill="#fff" />
<rect x="307" y="275" width="1" height="9" fill="#000" />
<rect x="305" y="278" width="5" height="5" fill="#000" />
<rect x="306" y="279" width="3" height="3" fill="#fff" />
<rect x="315" y="251" width="1" height="45" fill="#000" />
<rect x="313" y="266" width="5" height="13" fill="#000" />
<rect x="314" y="267" width="3" height="11" fill="#fff" />
<rect x="323" y="228" width="1" height="58" fill="#000" />
<rect x="321" y="265" width="5" height="10" fill="#000" />
<rect x="331" y="273" width="1" height="55" fill="#000" />
<rect x="329" y="274" width="5" height="42" fill="#000" />
<rect x="339" y="304" width="1" height="42" fill="#000" />
<rect x="337" y="314" width="5" height="3" fill="#000" />
<rect x="347" y="304" width="1" height="46" fill="#000" />
<rect x="345" y="311" width="5" height="6" fill="#000" />
<rect x="346" y="312" width="3" height="4" fill="#fff" />
<rect x="355" y="315" width="1" height="7" fill="#000" />
<rect x="353" y="317" width="5" height="5" fill="#000" />
<rect x="363" y="312" width="1" height="22" fill="#000" />
<rect x="361" y="320" width="5" height="9" fill="#000" />
<rect x="371" y="323" width="1" height="39" fill="#000" />
<rect x="369" y="328" width="5" height="29" fill="#000" />
<rect x="379" y="320" width="1" height="44" fill="#000" />
<rect x="377" y="336" width="5" height="21" fill="#000" />
<rect x="378" y="337" width="3" height="19" fill="#fff" />
<rect x="387" y="277" width="1" height="63" fill="#000" />
<rect x="385" y="326" width="5" height="11" fill="#000" />
<rect x="386" y="327" width="3" height="9" fill="#fff" />
<rect x="395" y="299" width="1" height="28" fill="#000" />
<rect x="393" y="322" width="5" height="5" fill="#000" />
<rect x="394" y="323" width="3" height="3" fill="#fff" />
<rect x="403" y="314" width="1" height="6" fill="#000" />
<rect x="401" y="315" width="5" height="3" fill="#000" />
<rect x="411" y="292" width="1" height="31" fill="#000" />
<rect x="409" y="303" width="5" height="15" fill="#000" />
<rect x="410" y="304" width="3" height="13" fill="#fff" />
<rect x="419" y="285" width="1" height="34" fill="#000" />
<rect x="417" y="303" width="5" height="14" fill="#000" />
<rect x="427" y="295" width="1" height="51" fill="#000" />
<rect x="425" y="316" width="5" height="21" fill="#000" />
<rect x="435" y="308" width="1" height="64" fill="#000" />
<rect x="433" y="313" width="5" height="24" fill="#000" />
<rect x="434" y="314" width="3" height="22" fill="#fff" />
<rect x="443" y="301" width="1" height="25" fill="#000" />
<rect x="441" y="310" width="5" height="4" fill="#000" />
<rect x="442" y="311" width="3" height="2" fill="#fff" />
<rect x="451" y="312" width="1" height="5" fill="#000" />
<rect x="449" y="313" width="5" height="3" fill="#000" />
<rect x="459" y="300" width="1" height="76" fill="#000" />
<rect x="457" y="314" width="5" height="45" fill="#000" />
<rect x="467" y="353" width="1" height="43" fill="#000" />
<rect x="465" y="357" width="5" height="31" fill="#000" />
<rect x="475" y="380" width="1" height="38" fill="#000" />
<rect x="473" y="387" width="5" height="27" fill="#000" />
<rect x="483" y="397" width="1" height="34" fill="#000" />
<rect x="481" y="404" width="5" height="10" fill="#000" />
<rect x="482" y="405" width="3" height="8" fill="#fff" />
<rect x="491" y="398" width="1" height="40" fill="#000" />
<rect x="489" y="404" width="5" height="29" fill="#000" />
<rect x="499" y="424" width="1" height="5" fill="#000" />
<rect x="497" y="425" width="5" height="3" fill="#000" />
<rect x="507" y="401" width="1" height="35" fill="#000" />
<rect x="505" y="402" width="5" height="23" fill="#000" />
<rect x="506" y="403" width="3" height="21" fill="#fff" />
<rect x="515" y="366" width="1" height="44" fill="#000" />
<rect x="513" y="368" width="5" height="35" fill="#000" />
<rect x="514" y="369" width="3" height="33" fill="#fff" />
<rect x="523" y="361" width="1" height="39" fill="#000" />
<rect x="521" y="368" width="5" height="11" fill="#000" />
<rect x="531" y="354" width="1" height="29" fill="#000" />
<rect x="529" y="367" width="5" height="12" fill="#000" />
<rect x="530" y="368" width="3" height="10" fill="#fff" />
<rect x="539" y="367" width="1" height="27" fill="#000" />
<rect x="537" y="367" width="5" height="19" fill="#000" />
<rect x="547" y="380" width="1" height="5" fill="#000" />
<rect x="545" y="380" width="5" height="4" fill="#000" />
<rect x="546" y="381" width="3" height="2" fill="#fff" />
<rect x="555" y="339" width="1" height="44" fill="#000" />
<rect x="553" y="344" width="5" height="38" fill="#000" />
<rect x="554" y="345" width="3" height="36" fill="#fff" />
<rect x="563" y="334" width="1" height="42" fill="#000" />
<rect x="561" y="344" width="5" height="29" fill="#000" />
<rect x="571" y="347" width="1" height="32" fill="#000" />
<rect x="569" y="356" width="5" height="16" fill="#000" />
<rect x="570" y="357" width="3" height="14" fill="#fff" />
<rect x="579" y="347" width="1" height="28" fill="#000" />
<rect x="577" y="355" width="5" height="2" fill="#000" />
<rect x="587" y="323" width="1" height="39" fill="#000" />
<rect x="585" y="325" width="5" height="31" fill="#000" />
<rect x="586" y="326" width="3" height="29" fill="#fff" />
<rect x="595" y="327" width="1" height="4" fill="#000" />
<rect x="593" y="329" width="5" height="2" fill="#000" />
<rect x="603" y="324" width="1" height="23" fill="#000" />
<rect x="601" y="330" width="5" height="2" fill="#000" />
<rect x="611" y="331" width="1" height="45" fill="#000" />
<rect x="609" y="331" width="5" height="38" fill="#000" />
<rect x="619" y="353" width="1" height="29" fill="#000" />
<rect x="617" y="367" width="5" height="2" fill="#000" />
<rect x="627" y="360" width="1" height="38" fill="#000" />
<rect x="625" y="367" width="5" height="21" fill="#000" />
<rect x="635" y="366" width="1" height="29" fill="#000" />
<rect x="633" y="380" width="5" height="8" fill="#000" />
<rect x="634" y="381" width="3" height="6" fill="#fff" />
<rect x="643" y="382" width="1" height="4" fill="#000" />
<rect x="641" y="382" width="5" height="3" fill="#000" />
<rect x="651" y="341" width="1" height="49" fill="#000" />
<rect x="649" y="354" width="5" height="29" fill="#000" />
<rect x="650" y="355" width="3" height="27" fill="#fff" />
<rect x="659" y="317" width="1" height="44" fill="#000" />
<rect x="657" y="323" width="5" height="33" fill="#000" />
<rect x="658" y="324" width="3" height="31" fill="#fff" />
<rect x="667" y="296" width="1" height="29" fill="#000" />
<rect x="665" y="311" width="5" height="13" fill="#000" />
<rect x="666" y="312" width="3" height="11" fill="#fff" />
<rect x="675" y="303" width="1" height="31" fill="#000" />
<rect x="673" y="311" width="5" height="20" fill="#000" />
<rect x="683" y="306" width="1" height="41" fill="#000" />
<rect x="681" y="307" width="5" height="25" fill="#000" />
<rect x="682" y="308" width="3" height="23" fill="#fff" />
<rect x="691" y="312" width="1" height="7" fill="#000" />
<rect x="689" y="313" width="5" height="5" fill="#000" />
<rect x="690" y="314" width="3" height="3" fill="#fff" />
<rect x="699" y="311" width="1" height="27" fill="#000" />
<rect x="697" y="313" width="5" height="21" fill="#000" />
<rect x="707" y="318" width="1" height="38" fill="#000" />
<rect x="705" y="333" width="5" height="15" fill="#000" />
<rect x="715" y="344" width="1" height="39" fill="#000" />
<rect x="713" y="347" width="5" height="20" fill="#000" />
<rect x="723" y="359" width="1" height="59" fill="#000" />
<rect x="721" y="365" width="5" height="39" fill="#000" />
<rect x="731" y="388" width="1" height="35" fill="#000" />
<rect x="729" y="402" width="5" height="20" fill="#000" />
<rect x="739" y="418" width="1" height="6" fill="#000" />
<rect x="737" y="419" width="5" height="4" fill="#000" />
<rect x="747" y="413" width="1" height="20" fill="#000" />
<rect x="745" y="420" width="5" height="2" fill="#000" />
<rect x="755" y="357" width="1" height="68" fill="#000" />
<rect x="753" y="358" width="5" height="65" fill="#000" />
<rect x="754" y="359" width="3" height="63" fill="#fff" />
<rect x="763" y="354" width="1" height="90" fill="#000" />
<rect x="761" y="358" width="5" height="17" fill="#000" />
<rect x="771" y="307" width="1" height="79" fill="#000" />
<rect x="769" y="329" width="5" height="46" fill="#000" />
<rect x="770" y="330" width="3" height="44" fill="#fff" />
<rect x="779" y="290" width="1" height="52" fill="#000" />
<rect x="777" y="295" width="5" height="35" fill="#000" />
<rect x="778" y="296" width="3" height="33" fill="#fff" />
<rect x="787" y="288" width="1" height="8" fill="#000" />
<rect x="785" y="289" width="5" height="5" fill="#000" />
<rect x="786" y="290" width="3" height="3" fill="#fff" />
<rect x="795" y="275" width="1" height="67" fill="#000" />
<rect x="793" y="289" width="5" height="38" fill="#000" />
<rect x="803" y="315" width="1" height="35" fill="#000" />
<rect x="801" y="326" width="5" height="4" fill="#000" />
<rect x="811" y="321" width="1" height="46" fill="#000" />
<rect x="809" y="328" width="5" height="22" fill="#000" />
<rect x="819" y="326" width="1" height="35" fill="#000" />
<rect x="817" y="336" width="5" height="14" fill="#000" />
<rect x="818" y="337" width="3" height="12" fill="#fff" />
<rect x="827" y="320" width="1" height="20" fill="#000" />
<rect x="825" y="321" width="5" height="17" fill="#000" />
<rect x="826" y="322" width="3" height="15" fill="#fff" />
<rect x="835" y="312" width="1" height="9" fill="#000" />
<rect x="833" y="314" width="5" height="6" fill="#000" />
<rect x="834" y="315" width="3" height="4" fill="#fff" />
<rect x="843" y="302" width="1" height="31" fill="#000" />
<rect x="841" y="307" width="5" height="8" fill="#000" />
<rect x="842" y="308" width="3" height="6" fill="#fff" />
<rect x="851" y="289" width="1" height="29" fill="#000" />
<rect x="849" y="305" width="5" height="4" fill="#000" />
<rect x="850" y="306" width="3" height="2" fill="#fff" />
<rect x="859" y="290" width="1" height="26" fill="#000" />
<rect x="857" y="305" width="5" height="10" fill="#000" />
<rect x="867" y="295" width="1" height="36" fill="#000" />
<rect x="865" y="304" width="5" height="12" fill="#000" />
<rect x="866" y="305" width="3" height="10" fill="#fff" />
<rect x="875" y="290" width="1" height="24" fill="#000" />
<rect x="873" y="303" width="5" height="5" fill="#000" />
<rect x="883" y="303" width="1" height="8" fill="#000" />
<rect x="881" y="304" width="5" height="5" fill="#000" />
<rect x="882" y="305" width="3" height="3" fill="#fff" />
<rect x="891" y="282" width="1" height="57" fill="#000" />
<rect x="889" y="304" width="5" height="13" fill="#000" />
<rect x="899" y="287" width="1" height="33" fill="#000" />
<rect x="897" y="287" width="5" height="29" fill="#000" />
<rect x="898" y="288" width="3" height="27" fill="#fff" />
<rect x="907" y="270" width="1" height="26" fill="#000" />
<rect x="905" y="277" width="5" height="11" fill="#000" />
<rect x="906" y="278" width="3" height="9" fill="#fff" />
<rect x="915" y="264" width="1" height="31" fill="#000" />
<rect x="913" y="277" width="5" height="4" fill="#000" />
<rect x="923" y="253" width="1" height="30" fill="#000" />
<rect x="921" y="256" width="5" height="26" fill="#000" />
<rect x="922" y="257" width="3" height="24" fill="#fff" />
<rect x="931" y="247" width="1" height="8" fill="#000" />
<rect x="929" y="248" width="5" height="3" fill="#000" />
<rect x="930" y="249" width="3" height="1" fill="#fff" />
<rect x="939" y="232" width="1" height="44" fill="#000" />
<rect x="937" y="248" width="5" height="19" fill="#000" />
<rect x="947" y="193" width="1" height="76" fill="#000" />
<rect x="945" y="197" width="5" height="71" fill="#000" />
<rect x="946" y="198" width="3" height="69" fill="#fff" />
<rect x="955" y="171" width="1" height="42" fill="#000" />
<rect x="953" y="174" width="5" height="23" fill="#000" />
<rect x="954" y="175" width="3" height="21" fill="#fff" />
<rect x="963" y="142" width="1" height="40" fill="#000" />
<rect x="961" y="157" width="5" height="19" fill="#000" />
<rect x="962" y="158" width="3" height="17" fill="#fff" />
<rect x="971" y="140" width="1" height="25" fill="#000" />
<rect x="969" y="157" width="5" height="6" fill="#000" />
<rect x="979" y="164" width="1" height="8" fill="#000" />
<rect x="977" y="168" width="5" height="4" fill="#000" />
<rect x="987" y="146" width="1" height="48" fill="#000" />
<rect x="985" y="170" width="5" height="8" fill="#000" />
<rect x="995" y="163" width="1" height="22" fill="#000" />
<rect x="993" y="176" width="5" height="2" fill="#000" />
<rect x="1003" y="156" width="1" height="48" fill="#000" />
<rect x="1001" y="176" width="5" height="18" fill="#000" />
<rect x="1011" y="150" width="1" height="44" fill="#000" />
<rect x="1009" y="158" width="5" height="36" fill="#000" />
<rect x="1010" y="159" width="3" height="34" fill="#fff" />
<rect x="1019" y="148" width="1" height="32" fill="#000" />
<rect x="1017" y="158" width="5" height="18" fill="#000" />
<rect x="1027" y="160" width="1" height="6" fill="#000" />
<rect x="1025" y="164" width="5" height="2" fill="#000" />
<rect x="1035" y="141" width="1" height="34" fill="#000" />
<rect x="1033" y="155" width="5" height="10" fill="#000" />
<rect x="1034" y="156" width="3" height="8" fill="#fff" />
<rect x="1043" y="145" width="1" height="26" fill="#000" />
<rect x="1041" y="152" width="5" height="4" fill="#000" />
<rect x="1042" y="153" width="3" height="2" fill="#fff" />
<rect x="1051" y="122" width="1" height="48" fill="#000" />
<rect x="1049" y="132" width="5" height="22" fill="#000" />
<rect x="1050" y="133" width="3" height="20" fill="#fff" />
<rect x="1059" y="91" width="1" height="44" fill="#000" />
<rect x="1057" y="96" width="5" height="37" fill="#000" />
<rect x="1058" y="97" width="3" height="35" fill="#fff" />
<rect x="1067" y="93" width="1" height="24" fill="#000" />
<rect x="1065" y="96" width="5" height="13" fill="#000" />
<rect x="1075" y="110" width="1" height="15" fill="#000" />
<rect x="1073" y="113" width="5" height="10" fill="#000" />
<rect x="1083" y="101" width="1" height="65" fill="#000" />
<rect x="1081" y="110" width="5" height="13" fill="#000" />
<rect x="1082" y="111" width="3" height="11" fill="#fff" />
<rect x="1091" y="99" width="1" height="57" fill="#000" />
<rect x="1089" y="110" width="5" height="26" fill="#000" />
<rect x="1099" y="117" width="1" height="38" fill="#000" />
<rect x="1097" y="132" width="5" height="4" fill="#000" />
<rect x="1098" y="133" width="3" height="2" fill="#fff" />
<rect x="1107" y="120" width="1" height="23" fill="#000" />
<rect x="1105" y="132" width="5" height="7" fill="#000" />
<rect x="1115" y="125" width="1" height="15" fill="#000" />
<rect x="1113" y="126" width="5" height="13" fill="#000" />
<rect x="1114" y="127" width="3" height="11" fill="#fff" />
<rect x="1123" y="102" width="1" height="38" fill="#000" />
<rect x="1121" y="118" width="5" height="9" fill="#000" />
<rect x="1122" y="119" width="3" height="7" fill="#fff" />
<rect x="1131" y="89" width="1" height="30" fill="#000" />
<rect x="1129" y="101" width="5" height="18" fill="#000" />
<rect x="1130" y="102" width="3" height="16" fill="#fff" />
<rect x="1139" y="71" width="1" height="33" fill="#000" />
<rect x="1137" y="77" width="5" height="26" fill="#000" />
<rect x="1138" y="78" width="3" height="24" fill="#fff" />
<rect x="1147" y="71" width="1" height="55" fill="#000" />
<rect x="1145" y="77" width="5" height="45" fill="#000" />
<rect x="1155" y="101" width="1" height="14" fill="#000" />
<rect x="1153" y="102" width="5" height="10" fill="#000" />
<rect x="1154" y="103" width="3" height="8" fill="#fff" />
<rect x="1163" y="72" width="1" height="38" fill="#000" />
<rect x="1161" y="101" width="5" height="3" fill="#000" />
<rect x="1162" y="102" width="3" height="1" fill="#fff" />
<rect x="1171" y="72" width="1" height="34" fill="#000" />
<rect x="1169" y="77" width="5" height="25" fill="#000" />
<rect x="1170" y="78" width="3" height="23" fill="#fff" />
<rect x="1179" y="51" width="1" height="45" fill="#000" />
<rect x="1177" y="56" width="5" height="22" fill="#000" />
<rect x="1178" y="57" width="3" height="20" fill="#fff" />
<rect x="1187" y="53" width="1" height="54" fill="#000" />
<rect x="1185" y="56" width="5" height="37" fill="#000" />
<rect x="1195" y="93" width="1" height="40" fill="#000" />
<rect x="1193" y="93" width="5" height="29" fill="#000" />
<rect x="1203" y="119" width="1" height="21" fill="#000" />
<rect x="1201" y="121" width="5" height="16" fill="#000" />
<rect x="1211" y="129" width="1" height="37" fill="#000" />
<rect x="1209" y="135" width="5" height="16" fill="#000" />
<rect x="1219" y="124" width="1" height="39" fill="#000" />
<rect x="1217" y="124" width="5" height="27" fill="#000" />
<rect x="1218" y="125" width="3" height="25" fill="#fff" />
<rect x="1227" y="117" width="1" height="45" fill="#000" />
<rect x="1225" y="124" width="5" height="25" fill="#000" />
<rect x="1235" y="140" width="1" height="37" fill="#000" />
<rect x="1233" y="148" width="5" height="8" fill="#000" />
<rect x="1243" y="148" width="1" height="47" fill="#000" />
<rect x="1241" y="154" width="5" height="40" fill="#000" />
<rect x="1251" y="190" width="1" height="11" fill="#000" />
<rect x="1249" y="190" width="5" height="10" fill="#000" />
<rect x="1259" y="188" width="1" height="19" fill="#000" />
<rect x="1257" y="193" width="5" height="6" fill="#000" />
<rect x="1258" y="194" width="3" height="4" fill="#fff" />
<rect x="1267" y="157" width="1" height="38" fill="#000" />
<rect x="1265" y="161" width="5" height="33" fill="#000" />
<rect x="1266" y="162" width="3" height="31" fill="#fff" />
<rect x="1275" y="150" width="1" height="45" fill="#000" />
<rect x="1273" y="160" width="5" height="16" fill="#000" />
<rect x="1283" y="143" width="1" height="35" fill="#000" />
<rect x="1281" y="148" width="5" height="27" fill="#000" />
<rect x="1282" y="149" width="3" height="25" fill="#fff" />
<rect x="1291" y="145" width="1" height="11" fill="#000" />
<rect x="1289" y="145" width="5" height="2" fill="#000" />
<rect x="1299" y="144" width="1" height="6" fill="#000" />
<rect x="1297" y="146" width="5" height="3" fill="#000" />
<rect x="1298" y="147" width="3" height="1" fill="#fff" />
<rect x="1307" y="138" width="1" height="36" fill="#000" />
<rect x="1305" y="145" width="5" height="16" fill="#000" />
<rect x="1315" y="141" width="1" height="38" fill="#000" />
<rect x="1313" y="149" width="5" height="12" fill="#000" />
<rect x="1314" y="150" width="3" height="10" fill="#fff" />
<rect x="1323" y="144" width="1" height="60" fill="#000" />
<rect x="1321" y="148" width="5" height="33" fill="#000" />
<rect x="1331" y="159" width="1" height="34" fill="#000" />
<rect x="1329" y="170" width="5" height="11" fill="#000" />
<rect x="1330" y="171" width="3" height="9" fill="#fff" />
<rect x="1339" y="151" width="1" height="32" fill="#000" />
<rect x="1337" y="166" width="5" height="5" fill="#000" />
<rect x="1338" y="167" width="3" height="3" fill="#fff" />
<rect x="1347" y="165" width="1" height="7" fill="#000" />
<rect x="1345" y="166" width="5" height="4" fill="#000" />
<rect x="1355" y="162" width="1" height="43" fill="#000" />
<rect x="1353" y="169" width="5" height="30" fill="#000" />
<rect x="1363" y="188" width="1" height="41" fill="#000" />
<rect x="1361" y="198" width="5" height="17" fill="#000" />
<rect x="1371" y="207" width="1" height="29" fill="#000" />
<rect x="1369" y="212" width="5" height="2" fill="#000" />
<rect x="1379" y="211" width="1" height="45" fill="#000" />
<rect x="1377" y="212" width="5" height="40" fill="#000" />
<rect x="1387" y="208" width="1" height="52" fill="#000" />
<rect x="1385" y="212" width="5" height="40" fill="#000" />
<rect x="1386" y="213" width="3" height="38" fill="#fff" />
<rect x="1395" y="205" width="1" height="8" fill="#000" />
<rect x="1393" y="208" width="5" height="4" fill="#000" />
<rect x="1394" y="209" width="3" height="2" fill="#fff" />
<rect x="1403" y="199" width="1" height="25" fill="#000" />
<rect x="1401" y="206" width="5" height="3" fill="#000" />
<rect x="1402" y="207" width="3" height="1" fill="#fff" />
<rect x="1411" y="170" width="1" height="38" fill="#000" />
<rect x="1409" y="172" width="5" height="35" fill="#000" />
<rect x="1410" y="173" width="3" height="33" fill="#fff" />
<rect x="1419" y="158" width="1" height="20" fill="#000" />
<rect x="1417" y="171" width="5" height="2" fill="#000" />
</g>
<g shape-rendering="crispEdges">
<rect x="3" y="664" width="1" height="41" fill="#c0c0c0" />
<rect x="11" y="660" width="1" height="45" fill="#c0c0c0" />
<rect x="19" y="657" width="1" height="48" fill="#c0c0c0" />
<rect x="27" y="655" width="1" height="50" fill="#c0c0c0" />
<rect x="35" y="648" width="1" height="57" fill="#c0c0c0" />
<rect x="43" y="641" width="1" height="64" fill="#c0c0c0" />
<rect x="51" y="635" width="1" height="70" fill="#c0c0c0" />
<rect x="59" y="628" width="1" height="77" fill="#c0c0c0" />
<rect x="67" y="622" width="1" height="83" fill="#c0c0c0" />
<rect x="75" y="610" width="1" height="95" fill="#c0c0c0" />
<rect x="83" y="606" width="1" height="99" fill="#c0c0c0" />
<rect x="91" y="599" width="1" height="106" fill="#c0c0c0" />
<rect x="99" y="591" width="1" height="114" fill="#c0c0c0" />
<rect x="107" y="590" width="1" height="115" fill="#c0c0c0" />
<rect x="115" y="590" width="1" height="115" fill="#c0c0c0" />
<rect x="123" y="593" width="1" height="112" fill="#c0c0c0" />
<rect x="131" y="593" width="1" height="112" fill="#c0c0c0" />
<rect x="139" y="591" width="1" height="114" fill="#c0c0c0" />
<rect x="147" y="592" width="1" height="113" fill="#c0c0c0" />
<rect x="155" y="597" width="1" height="108" fill="#c0c0c0" />
<rect x="163" y="604" width="1" height="101" fill="#c0c0c0" />
<rect x="171" y="614" width="1" height="91" fill="#c0c0c0" />
<rect x="179" y="622" width="1" height="83" fill="#c0c0c0" />
<rect x="187" y="626" width="1" height="79" fill="#c0c0c0" />
<rect x="195" y="628" width="1" height="77" fill="#c0c0c0" />
<rect x="203" y="629" width="1" height="76" fill="#c0c0c0" />
<rect x="211" y="630" width="1" height="75" fill="#c0c0c0" />
<rect x="219" y="630" width="1" height="75" fill="#c0c0c0" />
<rect x="227" y="626" width="1" height="79" fill="#c0c0c0" />
<rect x="235" y="631" width="1" height="74" fill="#c0c0c0" />
<rect x="243" y="634" width="1" height="71" fill="#c0c0c0" />
<rect x="251" y="642" width="1" height="63" fill="#c0c0c0" />
<rect x="259" y="649" width="1" height="56" fill="#c0c0c0" />
<rect x="267" y="655" width="1" height="50" fill="#c0c0c0" />
<rect x="275" y="658" width="1" height="47" fill="#c0c0c0" />
<rect x="283" y="660" width="1" height="45" fill="#c0c0c0" />
<rect x="291" y="664" width="1" height="41" fill="#c0c0c0" />
<rect x="299" y="662" width="1" height="43" fill="#c0c0c0" />
<rect x="307" y="660" width="1" height="45" fill="#c0c0c0" />
<rect x="315" y="657" width="1" height="48" fill="#c0c0c0" />
<rect x="323" y="656" width="1" height="49" fill="#c0c0c0" />
<rect x="331" y="662" width="1" height="43" fill="#c0c0c0" />
<rect x="339" y="667" width="1" height="38" fill="#c0c0c0" />
<rect x="347" y="670" width="1" height="35" fill="#c0c0c0" />
<rect x="355" y="675" width="1" height="30" fill="#c0c0c0" />
<rect x="363" y="679" width="1" height="26" fill="#c0c0c0" />
<rect x="371" y="687" width="1" height="18" fill="#c0c0c0" />
<rect x="379" y="691" width="1" height="14" fill="#c0c0c0" />
<rect x="387" y="692" width="1" height="13" fill="#c0c0c0" />
<rect x="395" y="693" width="1" height="12" fill="#c0c0c0" />
<rect x="403" y="694" width="1" height="11" fill="#c0c0c0" />
<rect x="411" y="692" width="1" height="13" fill="#c0c0c0" />
<rect x="419" y="693" width="1" height="12" fill="#c0c0c0" />
<rect x="427" y="696" width="1" height="9" fill="#c0c0c0" />
<rect x="435" y="696" width="1" height="9" fill="#c0c0c0" />
<rect x="443" y="695" width="1" height="10" fill="#c0c0c0" />
<rect x="451" y="695" width="1" height="10" fill="#c0c0c0" />
<rect x="459" y="701" width="1" height="4" fill="#c0c0c0" />
<rect x="467" y="704" width="1" height="6" fill="#c0c0c0" />
<rect x="475" y="704" width="1" height="16" fill="#c0c0c0" />
<rect x="483" y="704" width="1" height="22" fill="#c0c0c0" />
<rect x="491" y="704" width="1" height="31" fill="#c0c0c0" />
<rect x="499" y="704" width="1" height="36" fill="#c0c0c0" />
<rect x="507" y="704" width="1" height="37" fill="#c0c0c0" />
<rect x="515" y="704" width="1" height="33" fill="#c0c0c0" />
<rect x="523" y="704" width="1" height="30" fill="#c0c0c0" />
<rect x="531" y="704" width="1" height="27" fill="#c0c0c0" />
<rect x="539" y="704" width="1" height="26" fill="#c0c0c0" />
<rect x="547" y="704" width="1" height="25" fill="#c0c0c0" />
<rect x="555" y="704" width="1" height="18" fill="#c0c0c0" />
<rect x="563" y="704" width="1" height="17" fill="#c0c0c0" />
<rect x="571" y="704" width="1" height="14" fill="#c0c0c0" />
<rect x="579" y="704" width="1" height="11" fill="#c0c0c0" />
<rect x="587" y="704" width="1" height="5" fill="#c0c0c0" />
<rect x="595" y="704" width="1" height="2" fill="#c0c0c0" />
<rect x="603" y="701" width="1" height="4" fill="#c0c0c0" />
<rect x="627" y="704" width="1" height="5" fill="#c0c0c0" />
<rect x="635" y="704" width="1" height="6" fill="#c0c0c0" />
<rect x="643" y="704" width="1" height="9" fill="#c0c0c0" />
<rect x="651" y="704" width="1" height="7" fill="#c0c0c0" />
<rect x="667" y="699" width="1" height="6" fill="#c0c0c0" />
<rect x="675" y="697" width="1" height="8" fill="#c0c0c0" />
<rect x="683" y="692" width="1" height="13" fill="#c0c0c0" />
<rect x="691" y="689" width="1" height="16" fill="#c0c0c0" />
<rect x="699" y="690" width="1" height="15" fill="#c0c0c0" />
<rect x="707" y="692" width="1" height="13" fill="#c0c0c0" />
<rect x="715" y="696" width="1" height="9" fill="#c0c0c0" />
<rect x="731" y="704" width="1" height="10" fill="#c0c0c0" />
<rect x="739" y="704" width="1" height="17" fill="#c0c0c0" />
<rect x="747" y="704" width="1" height="22" fill="#c0c0c0" />
<rect x="755" y="704" width="1" height="18" fill="#c0c0c0" />
<rect x="763" y="704" width="1" height="16" fill="#c0c0c0" />
<rect x="771" y="704" width="1" height="8" fill="#c0c0c0" />
<rect x="779" y="703" width="1" height="2" fill="#c0c0c0" />
<rect x="787" y="695" width="1" height="10" fill="#c0c0c0" />
<rect x="795" y="693" width="1" height="12" fill="#c0c0c0" />
<rect x="803" y="692" width="1" height="13" fill="#c0c0c0" />
<rect x="811" y="694" width="1" height="11" fill="#c0c0c0" />
<rect x="819" y="694" width="1" height="11" fill="#c0c0c0" />
<rect x="827" y="692" width="1" height="13" fill="#c0c0c0" />
<rect x="835" y="690" width="1" height="15" fill="#c0c0c0" />
<rect x="843" y="687" width="1" height="18" fill="#c0c0c0" />
<rect x="851" y="685" width="1" height="20" fill="#c0c0c0" />
<rect x="859" y="685" width="1" height="20" fill="#c0c0c0" />
<rect x="867" y="684" width="1" height="21" fill="#c0c0c0" />
<rect x="875" y="684" width="1" height="21" fill="#c0c0c0" />
<rect x="883" y="684" width="1" height="21" fill="#c0c0c0" />
<rect x="891" y="685" width="1" height="20" fill="#c0c0c0" />
<rect x="899" y="683" width="1" height="22" fill="#c0c0c0" />
<rect x="907" y="680" width="1" height="25" fill="#c0c0c0" />
<rect x="915" y="678" width="1" height="27" fill="#c0c0c0" />
<rect x="923" y="674" width="1" height="31" fill="#c0c0c0" />
<rect x="931" y="670" width="1" height="35" fill="#c0c0c0" />
<rect x="939" y="670" width="1" height="35" fill="#c0c0c0" />
<rect x="947" y="661" width="1" height="44" fill="#c0c0c0" />
<rect x="955" y="652" width="1" height="53" fill="#c0c0c0" />
<rect x="963" y="643" width="1" height="62" fill="#c0c0c0" />
<rect x="971" y="637" width="1" height="68" fill="#c0c0c0" />
<rect x="979" y="635" width="1" height="70" fill="#c0c0c0" />
<rect x="987" y="634" width="1" height="71" fill="#c0c0c0" />
<rect x="995" y="635" width="1" height="70" fill="#c0c0c0" />
<rect x="1003" y="638" width="1" height="67" fill="#c0c0c0" />
<rect x="1011" y="637" width="1" height="68" fill="#c0c0c0" />
<rect x="1019" y="639" width="1" height="66" fill="#c0c0c0" />
<rect x="1027" y="640" width="1" height="65" fill="#c0c0c0" />
<rect x="1035" y="640" width="1" height="65" fill="#c0c0c0" />
<rect x="1043" y="641" width="1" height="64" fill="#c0c0c0" />
<rect x="1051" y="640" width="1" height="65" fill="#c0c0c0" />
<rect x="1059" y="635" width="1" height="70" fill="#c0c0c0" />
<rect x="1067" y="633" width="1" height="72" fill="#c0c0c0" />
<rect x="1075" y="635" width="1" height="70" fill="#c0c0c0" />
<rect x="1083" y="635" width="1" height="70" fill="#c0c0c0" />
<rect x="1091" y="639" width="1" height="66" fill="#c0c0c0" />
<rect x="1099" y="643" width="1" height="62" fill="#c0c0c0" />
<rect x="1107" y="647" width="1" height="58" fill="#c0c0c0" />
<rect x="1115" y="650" width="1" height="55" fill="#c0c0c0" />
<rect x="1123" y="652" width="1" height="53" fill="#c0c0c0" />
<rect x="1131" y="651" width="1" height="54" fill="#c0c0c0" />
<rect x="1139" y="651" width="1" height="54" fill="#c0c0c0" />
<rect x="1147" y="653" width="1" height="52" fill="#c0c0c0" />
<rect x="1155" y="656" width="1" height="49" fill="#c0c0c0" />
<rect x="1163" y="656" width="1" height="49" fill="#c0c0c0" />
<rect x="1171" y="654" width="1" height="51" fill="#c0c0c0" />
<rect x="1179" y="651" width="1" height="54" fill="#c0c0c0" />
<rect x="1187" y="654" width="1" height="51" fill="#c0c0c0" />
<rect x="1195" y="661" width="1" height="44" fill="#c0c0c0" />
<rect x="1203" y="668" width="1" height="37" fill="#c0c0c0" />
<rect x="1211" y="674" width="1" height="31" fill="#c0c0c0" />
<rect x="1219" y="680" width="1" height="25" fill="#c0c0c0" />
<rect x="1227" y="686" width="1" height="19" fill="#c0c0c0" />
<rect x="1235" y="691" width="1" height="14" fill="#c0c0c0" />
<rect x="1243" y="701" width="1" height="4" fill="#c0c0c0" />
<rect x="1251" y="704" width="1" height="5" fill="#c0c0c0" />
<rect x="1259" y="704" width="1" height="11" fill="#c0c0c0" />
<rect x="1267" y="704" width="1" height="11" fill="#c0c0c0" />
<rect x="1275" y="704" width="1" height="13" fill="#c0c0c0" />
<rect x="1283" y="704" width="1" height="11" fill="#c0c0c0" />
<rect x="1291" y="704" width="1" height="9" fill="#c0c0c0" />
<rect x="1299" y="704" width="1" height="7" fill="#c0c0c0" />
<rect x="1307" y="704" width="1" height="7" fill="#c0c0c0" />
<rect x="1315" y="704" width="1" height="8" fill="#c0c0c0" />
<rect x="1323" y="704" width="1" height="11" fill="#c0c0c0" />
<rect x="1331" y="704" width="1" height="11" fill="#c0c0c0" />
<rect x="1339" y="704" width="1" height="12" fill="#c0c0c0" />
<rect x="1347" y="704" width="1" height="14" fill="#c0c0c0" />
<rect x="1355" y="704" width="1" height="16" fill="#c0c0c0" />
<rect x="1363" y="704" width="1" height="19" fill="#c0c0c0" />
<rect x="1371" y="704" width="1" height="25" fill="#c0c0c0" />
<rect x="1379" y="704" width="1" height="31" fill="#c0c0c0" />
<rect x="1387" y="704" width="1" height="31" fill="#c0c0c0" />
<rect x="1395" y="704" width="1" height="30" fill="#c0c0c0" />
<rect x="1403" y="704" width="1" height="28" fill="#c0c0c0" />
<rect x="1411" y="704" width="1" height="23" fill="#c0c0c0" />
<rect x="1419" y="704" width="1" height="20" fill="#c0c0c0" />
<path d="M2.5,673v1M14.5,670v1M26.5,666v1M38.5,662v1M42.5,660v1M48.5,657v1M49.5,656v1M50.5,655v1M56.5,652v1M62.5,648v1M66.5,646v1M67.5,645v1M68.5,644v1M72.5,642v1M78.5,637v1M84.5,632v1M85.5,631v1M86.5,630v1M90.5,627v1M91.5,626v1M92.5,625v1M96.5,622v1M97.5,621v1M98.5,620v1M102.5,617v1M103.5,616v1M104.5,615v1M108.5,612v1M109.5,611v1M110.5,610v1M114.5,607v1M122.5,603v1M128.5,600v1M132.5,598v1M133.5,597v1M134.5,596v1M144.5,593v1M152.5,591v1M168.5,593v1M180.5,598v1M181.5,599v1M182.5,600v1M192.5,604v1M193.5,605v1M194.5,606v1M206.5,612v1M210.5,614v1M216.5,617v1M217.5,618v1M218.5,619v1M230.5,624v1M242.5,628v1M248.5,629v1M252.5,629v1M266.5,635v1M270.5,636v1M276.5,638v1M288.5,643v1M289.5,644v1M290.5,645v1M300.5,649v1M301.5,650v1M302.5,651v1M338.5,660v1M344.5,661v1M350.5,662v1M366.5,665v1M372.5,667v1M386.5,673v1M390.5,675v1M391.5,676v1M392.5,677v1M396.5,679v1M410.5,685v1M414.5,686v1M422.5,689v1M432.5,691v1M440.5,693v1M464.5,695v1M468.5,695v1M476.5,699v1M480.5,701v1M492.5,708v1M498.5,712v1M504.5,715v1M505.5,716v1M506.5,717v1M510.5,719v1M511.5,720v1M512.5,721v1M516.5,723v1M530.5,729v1M534.5,730v1M560.5,731v1M564.5,731v1M578.5,725v1M588.5,723v1M589.5,722v1M590.5,721v1M600.5,717v1M601.5,716v1M602.5,715v1M612.5,713v1M624.5,709v1M632.5,707v1M680.5,704v1M686.5,703v1M696.5,701v1M702.5,699v1M744.5,700v1M745.5,701v1M746.5,702v1M750.5,703v1M756.5,705v1M757.5,706v1M758.5,707v1M768.5,710v1M776.5,712v1M798.5,710v1M804.5,708v1M816.5,703v1M817.5,702v1M818.5,701v1M828.5,699v1M829.5,698v1M830.5,697v1M842.5,692v1M872.5,687v1M896.5,684v1M912.5,682v1M920.5,680v1M948.5,676v1M949.5,675v1M950.5,674v1M956.5,671v1M960.5,669v1M968.5,664v1M974.5,660v1M978.5,658v1M979.5,657v1M980.5,656v1M984.5,654v1M992.5,649v1M996.5,647v1M997.5,646v1M998.5,645v1M1010.5,640v1M1022.5,637v1M1040.5,637v1M1104.5,637v1M1112.5,639v1M1128.5,641v1M1142.5,645v1M1152.5,647v1M1184.5,652v1M1202.5,655v1M1206.5,656v1M1212.5,658v1M1226.5,664v1M1238.5,670v1M1242.5,672v1M1243.5,673v1M1244.5,674v1M1248.5,676v1M1254.5,680v1M1255.5,681v1M1256.5,682v1M1260.5,685v1M1261.5,686v1M1262.5,687v1M1266.5,691v1M1267.5,692v1M1268.5,693v1M1274.5,697v1M1284.5,702v1M1285.5,703v1M1286.5,704v1M1298.5,709v1M1304.5,710v1M1310.5,711v1M1352.5,713v1M1368.5,715v1M1374.5,717v1M1382.5,720v1M1394.5,724v1M156,591.5h3M145,592.5h2M150,592.5h2M162,592.5h3M138,594.5h3M169,594.5h2M174,596.5h3M126,601.5h2M186,602.5h3M120,604.5h2M115,606.5h2M198,608.5h3M204,611.5h2M211,615.5h2M222,621.5h3M228,623.5h2M234,625.5h3M240,627.5h2M246,628.5h2M253,630.5h2M258,632.5h3M264,634.5h2M79,636.5h2M1026,636.5h3M1032,636.5h3M1038,636.5h2M1098,636.5h3M271,637.5h2M1044,637.5h3M1050,637.5h3M1056,637.5h3M1062,637.5h3M1068,637.5h3M1074,637.5h3M1080,637.5h3M1086,637.5h3M1092,637.5h3M1020,638.5h2M1105,638.5h2M1110,638.5h2M277,639.5h2M1014,639.5h3M1116,639.5h3M1122,640.5h3M73,641.5h2M282,641.5h3M1008,641.5h2M1129,642.5h2M1002,643.5h3M1134,643.5h3M1140,644.5h2M1146,646.5h3M294,647.5h3M1153,648.5h2M60,649.5h2M1158,649.5h3M990,650.5h2M1164,650.5h3M1170,651.5h3M1176,651.5h3M1182,651.5h2M1188,652.5h3M1194,652.5h3M54,653.5h2M306,653.5h3M985,653.5h2M312,654.5h3M1200,654.5h2M318,655.5h3M324,656.5h3M330,657.5h3M1207,657.5h2M43,659.5h2M336,659.5h2M1213,659.5h2M342,660.5h2M348,661.5h2M972,661.5h2M1218,661.5h3M36,663.5h2M354,663.5h3M1224,663.5h2M360,664.5h3M30,665.5h3M966,665.5h2M367,666.5h2M1230,666.5h3M24,667.5h2M373,668.5h2M961,668.5h2M18,669.5h3M1236,669.5h2M378,670.5h3M12,671.5h2M6,672.5h3M384,672.5h2M954,672.5h2M0,674.5h2M942,677.5h3M1249,677.5h2M936,678.5h3M930,679.5h3M397,680.5h2M924,680.5h3M913,681.5h2M918,681.5h2M402,682.5h3M906,683.5h3M408,684.5h2M900,684.5h3M888,685.5h3M894,685.5h2M882,686.5h3M415,687.5h2M876,687.5h3M420,688.5h2M864,688.5h3M870,688.5h2M858,689.5h3M426,690.5h3M852,690.5h3M846,691.5h3M433,692.5h2M438,692.5h2M444,693.5h3M450,693.5h3M840,693.5h2M456,694.5h3M462,694.5h2M720,695.5h3M834,695.5h3M469,696.5h2M714,696.5h3M726,696.5h3M1272,696.5h2M708,697.5h3M732,697.5h3M474,698.5h2M703,698.5h2M738,698.5h3M697,700.5h2M822,700.5h3M1278,700.5h3M481,702.5h2M690,702.5h3M684,704.5h2M751,704.5h2M486,705.5h3M666,705.5h3M672,705.5h3M678,705.5h2M810,705.5h3M648,706.5h3M654,706.5h3M660,706.5h3M1290,706.5h3M636,707.5h3M642,707.5h3M805,707.5h2M625,708.5h2M630,708.5h2M1296,708.5h2M493,709.5h2M762,709.5h3M799,709.5h2M1302,709.5h2M618,710.5h3M1308,710.5h2M769,711.5h2M774,711.5h2M792,711.5h3M613,712.5h2M780,712.5h3M786,712.5h3M1314,712.5h3M1320,712.5h3M1326,712.5h3M1332,712.5h3M1338,712.5h3M1344,712.5h3M1350,712.5h2M499,713.5h2M1356,713.5h3M606,714.5h3M1362,714.5h3M1369,716.5h2M1375,718.5h2M594,719.5h3M1380,719.5h2M1386,721.5h3M1392,723.5h2M517,724.5h2M582,724.5h3M1398,725.5h3M522,726.5h3M576,726.5h2M1404,726.5h3M1410,727.5h3M1416,727.5h3M528,728.5h2M570,728.5h3M565,730.5h2M535,731.5h2M540,732.5h3M552,732.5h3M558,732.5h2M546,733.5h3" fill="none" stroke="#ff0000" stroke-width="1"/>
</g>
<g shape-rendering="crispEdges">
<line x1="2" y1="786.5" x2="1685" y2="786.5" stroke="#c0c0c0" stroke-width="1" stroke-dasharray="3,3"/>
<line x1="2" y1="837.5" x2="1685" y2="837.5" stroke="#c0c0c0" stroke-width="1" stroke-dasharray="3,3"/>
<line x1="2" y1="898.5" x2="1685" y2="898.5" stroke="#c0c0c0" stroke-width="1" stroke-dasharray="3,3"/>
<path d="M0.5,813v1M1.5,814v1M2.5,815v1M3.5,816v1M4.5,815v1M5.5,814v1M6.5,813v1M9.5,811v1M10.5,810v1M28.5,806v1M29.5,805v1M30.5,804v1M31.5,802v2M32.5,801v1M33.5,800v1M34.5,799v1M53.5,791v1M57.5,789v1M68.5,786v1M69.5,785v1M70.5,784v1M71.5,783v1M72.5,782v1M73.5,781v1M74.5,780v1M75.5,779v1M76.5,780v2M77.5,782v2M78.5,784v1M79.5,785v2M80.5,787v1M81.5,788v2M82.5,790v2M85.5,791v1M89.5,789v1M96.5,785v1M99.5,783v1M100.5,785v2M101.5,787v2M102.5,789v2M103.5,791v2M104.5,793v2M105.5,795v2M106.5,797v2M107.5,799v1M117.5,803v1M121.5,805v1M128.5,803v1M133.5,800v1M137.5,798v1M147.5,797v1M148.5,798v2M149.5,800v2M150.5,802v3M151.5,805v2M152.5,807v3M153.5,810v2M154.5,812v2M155.5,814v1M164.5,816v1M165.5,817v1M166.5,818v1M167.5,819v1M168.5,820v1M169.5,821v1M170.5,822v1M180.5,823v1M181.5,822v1M182.5,821v1M183.5,820v1M184.5,819v1M185.5,818v1M186.5,817v1M220.5,806v1M221.5,805v1M222.5,804v1M223.5,803v1M224.5,802v1M225.5,801v1M227.5,799v1M228.5,801v3M229.5,804v2M230.5,806v3M231.5,809v3M232.5,812v3M233.5,815v2M234.5,817v3M235.5,820v1M244.5,819v2M245.5,821v2M246.5,823v2M247.5,825v1M248.5,826v2M249.5,828v2M250.5,830v2M268.5,830v1M271.5,828v1M274.5,826v1M285.5,825v1M289.5,827v1M292.5,827v1M293.5,825v2M294.5,824v1M295.5,823v1M296.5,822v1M297.5,820v2M298.5,819v1M324.5,816v2M325.5,818v2M326.5,820v2M327.5,822v2M328.5,824v2M329.5,826v2M330.5,828v2M357.5,834v1M361.5,836v1M364.5,838v1M365.5,839v2M366.5,841v1M367.5,842v1M368.5,843v1M369.5,844v2M370.5,846v1M371.5,847v1M372.5,846v1M373.5,845v1M374.5,844v1M375.5,843v1M376.5,842v1M377.5,841v1M378.5,840v1M381.5,838v1M385.5,836v1M408.5,829v1M411.5,827v1M412.5,828v1M415.5,830v1M418.5,832v1M419.5,833v1M420.5,834v1M421.5,835v1M422.5,836v1M423.5,837v1M424.5,838v1M425.5,839v1M426.5,840v1M427.5,841v1M428.5,840v1M429.5,839v1M430.5,838v1M431.5,836v2M432.5,835v1M433.5,834v1M434.5,833v1M451.5,833v1M452.5,834v2M453.5,836v2M454.5,838v2M455.5,840v3M456.5,843v2M457.5,845v2M458.5,847v2M459.5,849v2M460.5,851v1M461.5,852v1M462.5,853v1M463.5,854v2M464.5,856v1M465.5,857v1M466.5,858v1M467.5,859v1M468.5,860v1M469.5,861v1M470.5,862v1M473.5,864v1M474.5,865v1M477.5,865v1M481.5,863v1M484.5,863v1M487.5,865v1M490.5,867v1M500.5,864v1M501.5,862v2M502.5,861v1M503.5,860v1M504.5,859v1M505.5,857v2M506.5,856v1M507.5,855v1M508.5,853v2M509.5,851v2M510.5,849v2M511.5,848v1M512.5,846v2M513.5,844v2M514.5,842v2M525.5,843v1M529.5,841v1M532.5,841v1M535.5,843v1M538.5,845v1M548.5,842v2M549.5,840v2M550.5,839v1M551.5,837v2M552.5,836v1M553.5,834v2M554.5,832v2M555.5,831v1M556.5,832v1M557.5,833v2M558.5,835v1M559.5,836v1M560.5,837v1M561.5,838v2M562.5,840v1M563.5,841v1M564.5,840v1M567.5,838v1M570.5,836v1M580.5,834v1M581.5,832v2M582.5,831v1M583.5,830v1M584.5,829v1M585.5,827v2M586.5,826v1M604.5,829v2M605.5,831v2M606.5,833v2M607.5,835v1M608.5,836v2M609.5,838v2M610.5,840v2M620.5,843v1M621.5,844v1M622.5,845v1M625.5,847v1M626.5,848v1M644.5,845v2M645.5,844v1M646.5,842v2M647.5,841v1M648.5,839v2M649.5,838v1M650.5,836v2M651.5,835v1M652.5,833v2M653.5,832v1M654.5,830v2M655.5,829v1M656.5,827v2M657.5,826v1M658.5,824v2M668.5,821v1M669.5,822v1M670.5,823v1M671.5,824v1M672.5,825v1M673.5,826v1M674.5,827v1M675.5,828v1M676.5,827v1M677.5,826v1M678.5,825v1M681.5,823v1M682.5,822v1M692.5,824v1M693.5,825v1M694.5,826v1M695.5,827v2M696.5,829v1M697.5,830v1M698.5,831v1M699.5,832v1M700.5,833v1M703.5,835v1M706.5,837v1M707.5,838v1M708.5,839v1M711.5,841v1M714.5,843v1M715.5,844v1M716.5,845v2M717.5,847v1M718.5,848v2M719.5,850v1M720.5,851v2M721.5,853v1M722.5,854v2M723.5,856v1M728.5,859v1M747.5,860v1M748.5,857v3M749.5,853v4M750.5,850v3M751.5,847v3M752.5,844v3M753.5,840v4M754.5,837v3M755.5,835v1M760.5,838v1M763.5,840v1M764.5,838v2M765.5,836v2M766.5,835v1M767.5,833v2M768.5,832v1M769.5,830v2M770.5,828v2M771.5,827v1M772.5,826v1M773.5,825v1M774.5,824v1M775.5,822v2M776.5,821v1M777.5,820v1M778.5,819v1M788.5,818v2M789.5,820v2M790.5,822v1M791.5,823v2M792.5,825v1M793.5,826v2M794.5,828v2M804.5,832v1M807.5,834v1M810.5,836v1M813.5,836v1M817.5,834v1M821.5,832v1M825.5,830v1M853.5,825v1M857.5,827v1M861.5,827v1M865.5,825v1M884.5,826v1M887.5,828v1M890.5,830v1M891.5,831v1M892.5,829v2M893.5,828v1M894.5,827v1M895.5,825v2M896.5,824v1M897.5,823v1M898.5,821v2M916.5,817v1M917.5,816v1M918.5,815v1M919.5,814v1M920.5,813v1M921.5,812v1M922.5,811v1M932.5,809v1M933.5,810v2M934.5,812v1M935.5,813v1M936.5,814v1M937.5,815v2M939.5,818v1M940.5,815v2M941.5,813v2M942.5,810v3M943.5,808v2M944.5,805v3M945.5,803v2M946.5,801v2M947.5,800v1M972.5,795v1M975.5,797v1M978.5,799v1M996.5,804v1M997.5,805v2M998.5,807v1M999.5,808v1M1000.5,809v1M1001.5,810v2M1002.5,812v1M1003.5,813v1M1004.5,812v1M1005.5,810v2M1006.5,809v1M1007.5,808v1M1008.5,807v1M1009.5,805v2M1010.5,804v1M1011.5,803v1M1012.5,804v1M1013.5,805v1M1014.5,806v1M1015.5,807v2M1016.5,809v1M1017.5,810v1M1018.5,811v1M1044.5,805v1M1047.5,803v1M1050.5,801v1M1051.5,800v1M1052.5,799v1M1053.5,798v1M1054.5,797v1M1057.5,795v1M1058.5,794v1M1059.5,793v1M1060.5,794v1M1063.5,796v1M1066.5,798v1M1067.5,799v1M1068.5,800v1M1069.5,801v1M1070.5,802v1M1071.5,803v2M1072.5,805v1M1073.5,806v1M1074.5,807v1M1084.5,806v2M1085.5,808v2M1086.5,810v1M1087.5,811v2M1088.5,813v1M1089.5,814v2M1090.5,816v2M1128.5,810v1M1131.5,808v1M1132.5,807v1M1133.5,806v1M1134.5,805v1M1137.5,803v1M1139.5,801v1M1140.5,803v3M1141.5,806v3M1142.5,809v3M1143.5,812v2M1144.5,814v3M1145.5,817v3M1146.5,820v3M1147.5,824v1M1151.5,821v1M1154.5,819v1M1164.5,817v1M1165.5,816v1M1166.5,815v1M1169.5,813v1M1170.5,812v1M1171.5,811v1M1176.5,808v1M1179.5,806v1M1180.5,808v2M1181.5,810v2M1182.5,812v2M1183.5,814v2M1184.5,816v2M1185.5,818v2M1186.5,820v2M1187.5,822v2M1188.5,824v1M1189.5,825v2M1190.5,827v1M1191.5,828v1M1192.5,829v1M1193.5,830v2M1194.5,832v1M1195.5,833v1M1200.5,836v1M1203.5,838v1M1208.5,841v1M1211.5,843v1M1212.5,842v1M1213.5,841v1M1214.5,840v1M1215.5,838v2M1216.5,837v1M1217.5,836v1M1218.5,835v1M1219.5,834v1M1220.5,835v1M1221.5,836v1M1222.5,837v1M1225.5,839v1M1226.5,840v1M1236.5,844v2M1237.5,846v1M1238.5,847v2M1239.5,849v1M1240.5,850v2M1241.5,852v1M1242.5,853v2M1260.5,852v2M1261.5,851v1M1262.5,849v2M1263.5,848v1M1264.5,846v2M1265.5,845v1M1266.5,843v2M1269.5,843v1M1273.5,845v1M1276.5,845v1M1277.5,843v2M1278.5,842v1M1279.5,841v1M1280.5,840v1M1281.5,838v2M1282.5,837v1M1304.5,839v1M1309.5,840v1M1313.5,838v1M1316.5,838v2M1317.5,840v1M1318.5,841v1M1319.5,842v2M1320.5,844v1M1321.5,845v1M1322.5,846v2M1325.5,847v1M1329.5,845v1M1348.5,844v1M1349.5,845v2M1350.5,847v1M1351.5,848v1M1352.5,849v1M1353.5,850v2M1354.5,852v1M1355.5,853v1M1356.5,854v1M1359.5,856v1M1362.5,858v1M1372.5,859v2M1373.5,861v1M1374.5,862v1M1375.5,863v2M1376.5,865v1M1377.5,866v1M1378.5,867v1M1379.5,869v1M1380.5,866v2M1381.5,864v2M1382.5,862v2M1383.5,859v3M1384.5,857v2M1385.5,855v2M1386.5,853v2M1387.5,852v1M1404.5,847v2M1405.5,845v2M1406.5,843v2M1407.5,842v1M1408.5,840v2M1409.5,838v2M1410.5,836v2M97,784.5h3M94,786.5h2M64,787.5h4M92,787.5h2M58,788.5h6M90,788.5h2M54,790.5h3M86,790.5h3M50,792.5h3M83,792.5h2M47,793.5h3M962,793.5h6M45,794.5h2M959,794.5h3M968,794.5h4M42,795.5h3M957,795.5h2M1061,795.5h2M39,796.5h3M144,796.5h4M954,796.5h3M973,796.5h2M1055,796.5h2M37,797.5h2M138,797.5h6M951,797.5h3M1064,797.5h2M35,798.5h2M949,798.5h2M976,798.5h2M134,799.5h3M947,799.5h2M107,800.5h3M226,800.5h2M979,800.5h2M110,801.5h3M131,801.5h2M981,801.5h2M113,802.5h4M129,802.5h2M983,802.5h3M1048,802.5h2M1138,802.5h2M986,803.5h10M118,804.5h3M126,804.5h2M1045,804.5h2M1135,804.5h2M124,805.5h2M1082,805.5h2M122,806.5h2M1040,806.5h4M1079,806.5h3M25,807.5h3M217,807.5h3M1033,807.5h7M1077,807.5h2M1177,807.5h3M22,808.5h3M214,808.5h3M929,808.5h3M1030,808.5h3M1075,808.5h2M11,809.5h11M209,809.5h5M926,809.5h3M1026,809.5h4M1129,809.5h2M1174,809.5h2M206,810.5h3M923,810.5h3M1023,810.5h3M1172,810.5h2M201,811.5h5M1021,811.5h2M1126,811.5h2M7,812.5h2M198,812.5h3M314,812.5h3M1019,812.5h2M1124,812.5h2M194,813.5h4M311,813.5h3M317,813.5h2M1122,813.5h2M191,814.5h3M309,814.5h2M319,814.5h3M1119,814.5h3M1167,814.5h2M155,815.5h9M189,815.5h2M306,815.5h3M322,815.5h2M1117,815.5h2M187,816.5h2M303,816.5h3M1114,816.5h3M301,817.5h2M784,817.5h4M906,817.5h6M938,817.5h2M1096,817.5h6M1111,817.5h3M242,818.5h2M299,818.5h2M779,818.5h5M903,818.5h3M912,818.5h4M1091,818.5h5M1102,818.5h3M1109,818.5h2M1155,818.5h9M239,819.5h3M901,819.5h2M1105,819.5h4M237,820.5h2M666,820.5h2M899,820.5h2M1152,820.5h2M235,821.5h2M663,821.5h3M683,821.5h3M661,822.5h2M686,822.5h3M1149,822.5h2M171,823.5h5M659,823.5h2M689,823.5h3M1147,823.5h2M176,824.5h4M280,824.5h5M679,824.5h2M842,824.5h11M866,824.5h4M275,825.5h5M587,825.5h5M839,825.5h3M870,825.5h3M880,825.5h4M286,826.5h3M592,826.5h6M837,826.5h2M854,826.5h3M862,826.5h3M873,826.5h7M272,827.5h2M598,827.5h3M833,827.5h4M885,827.5h2M290,828.5h2M409,828.5h2M601,828.5h3M830,828.5h3M858,828.5h3M269,829.5h2M413,829.5h2M826,829.5h4M888,829.5h2M257,830.5h7M331,830.5h3M345,830.5h4M406,830.5h2M795,830.5h5M254,831.5h3M264,831.5h4M334,831.5h3M342,831.5h3M349,831.5h2M404,831.5h2M416,831.5h2M440,831.5h8M800,831.5h4M822,831.5h3M251,832.5h3M337,832.5h5M351,832.5h3M401,832.5h3M435,832.5h5M448,832.5h4M354,833.5h3M398,833.5h3M805,833.5h2M818,833.5h3M392,834.5h6M701,834.5h2M1196,834.5h2M358,835.5h3M386,835.5h6M571,835.5h9M808,835.5h2M814,835.5h3M1198,835.5h2M1411,835.5h9M704,836.5h2M755,836.5h3M1283,836.5h17M362,837.5h2M382,837.5h3M568,837.5h2M758,837.5h2M811,837.5h2M1201,837.5h2M1300,837.5h2M1314,837.5h2M1223,838.5h2M1302,838.5h2M379,839.5h2M565,839.5h2M761,839.5h2M1204,839.5h2M1310,839.5h3M530,840.5h2M709,840.5h2M1206,840.5h2M1305,840.5h2M515,841.5h2M1227,841.5h3M1307,841.5h2M517,842.5h2M526,842.5h3M533,842.5h2M611,842.5h9M712,842.5h2M1209,842.5h2M1230,842.5h3M1267,842.5h2M1337,842.5h7M519,843.5h3M1233,843.5h3M1334,843.5h3M1344,843.5h4M522,844.5h3M536,844.5h2M545,844.5h3M1270,844.5h3M1330,844.5h4M542,845.5h3M539,846.5h3M623,846.5h2M634,846.5h6M1274,846.5h2M1326,846.5h3M631,847.5h3M640,847.5h4M629,848.5h2M1323,848.5h2M627,849.5h2M1393,849.5h11M1390,850.5h3M1387,851.5h3M1258,854.5h2M1243,855.5h3M1255,855.5h3M1357,855.5h2M1246,856.5h3M1253,856.5h2M724,857.5h2M1249,857.5h4M1360,857.5h2M726,858.5h2M1368,858.5h4M1363,859.5h5M729,860.5h2M731,861.5h17M482,862.5h2M471,863.5h2M478,864.5h3M485,864.5h2M498,865.5h2M475,866.5h2M488,866.5h2M495,866.5h3M493,867.5h2M491,868.5h2M1378,868.5h2" fill="none" stroke="#1e90ff" stroke-width="1"/>
</g>
<rect x="1270" y="182" width="216" height="6" fill="#00ff00" shape-rendering="crispEdges"/>
<line x1="1181.5" y1="58.0" x2="1248.2" y2="189.5" stroke="#ff0000" stroke-width="3.7"/>
<polygon points="1252.5,198.0 1243.2,189.8 1251.4,185.7" fill="#ff0000"/>
<line x1="1260.6" y1="204.8" x2="1293.2" y2="137.2" stroke="#ff0000" stroke-width="3.7"/>
<polygon points="1297.3,128.6 1296.5,141.0 1288.2,137.0" fill="#ff0000"/>
<line x1="1297.3" y1="129.0" x2="1382.8" y2="249.9" stroke="#ff0000" stroke-width="3.7"/>
<polygon points="1388.3,257.7 1377.9,251.0 1385.4,245.7" fill="#ff0000"/>
<line x1="1388.3" y1="257.7" x2="1435.9" y2="159.4" stroke="#ff0000" stroke-width="3.7"/>
<polygon points="1440.0,150.8 1439.1,163.2 1430.9,159.2" fill="#ff0000"/>
<line x1="1072.6" y1="627.5" x2="1389.2" y2="732.8" stroke="#ff0000" stroke-width="3.3"/>
<polygon points="1398.7,736.0 1385.9,736.6 1388.8,727.8" fill="#ff0000"/>
<line x1="1397.4" y1="735.8" x2="1445.4" y2="720.2" stroke="#ff0000" stroke-width="3.3"/>
<polygon points="1454.9,717.1 1444.9,725.2 1442.1,716.4" fill="#ff0000"/>
<line x1="1053.7" y1="790.4" x2="1372.8" y2="863.0" stroke="#ff0000" stroke-width="3.3"/>
<polygon points="1382.6,865.2 1369.9,867.0 1371.9,858.1" fill="#ff0000"/>
<line x1="1382.6" y1="865.2" x2="1437.1" y2="837.4" stroke="#ff0000" stroke-width="3.3"/>
<polygon points="1446.0,832.8 1437.4,842.4 1433.2,834.2" fill="#ff0000"/>
<g shape-rendering="crispEdges"><rect x="1108.5" y="43.5" width="61" height="18" fill="#fff" stroke="#ff0000" stroke-width="1"/>
<rect x="1170" y="52" width="11" height="1" fill="#ff0000"/></g>
<text x="1110.8" y="59" font-size="16.3" fill="#ff0000" text-anchor="start" font-weight="normal"  textLength="57" lengthAdjust="spacingAndGlyphs">1.23454</text>
<g shape-rendering="crispEdges"><rect x="987.5" y="80.5" width="62" height="18" fill="#fff" stroke="#ff0000" stroke-width="1"/>
<rect x="1050" y="89" width="9" height="1" fill="#ff0000"/></g>
<text x="989.8" y="96" font-size="16.3" fill="#ff0000" text-anchor="start" font-weight="normal"  textLength="58" lengthAdjust="spacingAndGlyphs">1.22739</text>
<g shape-rendering="crispEdges"><rect x="252.5" y="219.5" width="61" height="18" fill="#fff" stroke="#ff0000" stroke-width="1"/>
<rect x="314" y="228" width="9" height="1" fill="#ff0000"/></g>
<text x="254.8" y="235" font-size="16.3" fill="#ff0000" text-anchor="start" font-weight="normal"  textLength="57" lengthAdjust="spacingAndGlyphs">1.20100</text>
<g shape-rendering="crispEdges"><rect x="692.5" y="434.5" width="61" height="18" fill="#fff" stroke="#ff0000" stroke-width="1"/>
<rect x="754" y="443" width="9" height="1" fill="#ff0000"/></g>
<text x="694.8" y="450" font-size="16.3" fill="#ff0000" text-anchor="start" font-weight="normal"  textLength="57" lengthAdjust="spacingAndGlyphs">1.15991</text>
<g shape-rendering="crispEdges"><rect x="1316.5" y="250.5" width="61" height="18" fill="#fff" stroke="#ff0000" stroke-width="1"/>
<rect x="1378" y="258" width="10" height="1" fill="#ff0000"/></g>
<text x="1318.8" y="266" font-size="16.3" fill="#ff0000" text-anchor="start" font-weight="normal"  textLength="57" lengthAdjust="spacingAndGlyphs">1.19494</text>
<g shape-rendering="crispEdges"><rect x="1134.5" y="173.5" width="73" height="24" fill="#fff" stroke="#ff0000" stroke-width="1"/>
<rect x="1124" y="185" width="10" height="1" fill="#ff0000"/></g>
<text x="1136.6" y="194" font-size="21.5" fill="#ff0000" text-anchor="start" font-weight="normal"  textLength="69.6" lengthAdjust="spacingAndGlyphs">1.20906</text>
<g shape-rendering="crispEdges">
<rect x="1686" y="45" width="2" height="1" fill="#000" />
<rect x="1686" y="78" width="2" height="1" fill="#000" />
<rect x="1686" y="111" width="2" height="1" fill="#000" />
<rect x="1686" y="144" width="2" height="1" fill="#000" />
<rect x="1686" y="177" width="2" height="1" fill="#000" />
<rect x="1686" y="210" width="2" height="1" fill="#000" />
<rect x="1686" y="243" width="2" height="1" fill="#000" />
<rect x="1686" y="276" width="2" height="1" fill="#000" />
<rect x="1686" y="309" width="2" height="1" fill="#000" />
<rect x="1686" y="342" width="2" height="1" fill="#000" />
<rect x="1686" y="375" width="2" height="1" fill="#000" />
<rect x="1686" y="408" width="2" height="1" fill="#000" />
<rect x="1686" y="441" width="2" height="1" fill="#000" />
<rect x="1686" y="474" width="2" height="1" fill="#000" />
<rect x="1686" y="507" width="2" height="1" fill="#000" />
<rect x="1686" y="540" width="2" height="1" fill="#000" />
<rect x="1686" y="573" width="2" height="1" fill="#000" />
</g>
<text x="1691.5" y="48.3" font-size="9" fill="#000" text-anchor="start" font-weight="normal"  textLength="32.5" lengthAdjust="spacingAndGlyphs">1.23590</text>
<text x="1691.5" y="81.3" font-size="9" fill="#000" text-anchor="start" font-weight="normal"  textLength="32.5" lengthAdjust="spacingAndGlyphs">1.22960</text>
<text x="1691.5" y="114.3" font-size="9" fill="#000" text-anchor="start" font-weight="normal"  textLength="32.5" lengthAdjust="spacingAndGlyphs">1.22330</text>
<text x="1691.5" y="147.3" font-size="9" fill="#000" text-anchor="start" font-weight="normal"  textLength="32.5" lengthAdjust="spacingAndGlyphs">1.21700</text>
<text x="1691.5" y="180.3" font-size="9" fill="#000" text-anchor="start" font-weight="normal"  textLength="32.5" lengthAdjust="spacingAndGlyphs">1.21070</text>
<text x="1691.5" y="213.3" font-size="9" fill="#000" text-anchor="start" font-weight="normal"  textLength="32.5" lengthAdjust="spacingAndGlyphs">1.20440</text>
<text x="1691.5" y="246.3" font-size="9" fill="#000" text-anchor="start" font-weight="normal"  textLength="32.5" lengthAdjust="spacingAndGlyphs">1.19795</text>
<text x="1691.5" y="279.3" font-size="9" fill="#000" text-anchor="start" font-weight="normal"  textLength="32.5" lengthAdjust="spacingAndGlyphs">1.19165</text>
<text x="1691.5" y="312.3" font-size="9" fill="#000" text-anchor="start" font-weight="normal"  textLength="32.5" lengthAdjust="spacingAndGlyphs">1.18535</text>
<text x="1691.5" y="345.3" font-size="9" fill="#000" text-anchor="start" font-weight="normal"  textLength="32.5" lengthAdjust="spacingAndGlyphs">1.17905</text>
<text x="1691.5" y="378.3" font-size="9" fill="#000" text-anchor="start" font-weight="normal"  textLength="32.5" lengthAdjust="spacingAndGlyphs">1.17275</text>
<text x="1691.5" y="411.3" font-size="9" fill="#000" text-anchor="start" font-weight="normal"  textLength="32.5" lengthAdjust="spacingAndGlyphs">1.16645</text>
<text x="1691.5" y="444.3" font-size="9" fill="#000" text-anchor="start" font-weight="normal"  textLength="32.5" lengthAdjust="spacingAndGlyphs">1.16015</text>
<text x="1691.5" y="477.3" font-size="9" fill="#000" text-anchor="start" font-weight="normal"  textLength="32.5" lengthAdjust="spacingAndGlyphs">1.15385</text>
<text x="1691.5" y="510.3" font-size="9" fill="#000" text-anchor="start" font-weight="normal"  textLength="32.5" lengthAdjust="spacingAndGlyphs">1.14750</text>
<text x="1691.5" y="543.3" font-size="9" fill="#000" text-anchor="start" font-weight="normal"  textLength="32.5" lengthAdjust="spacingAndGlyphs">1.14120</text>
<text x="1691.5" y="576.3" font-size="9" fill="#000" text-anchor="start" font-weight="normal"  textLength="32.5" lengthAdjust="spacingAndGlyphs">1.13495</text>
<rect x="1687" y="126" width="41" height="11" fill="#ff0000" shape-rendering="crispEdges"/>
<text x="1691.8" y="135" font-size="9" fill="#fff" text-anchor="start" font-weight="normal"  textLength="32.5" lengthAdjust="spacingAndGlyphs">1.21924</text>
<rect x="1687" y="146" width="41" height="11" fill="#ff0000" shape-rendering="crispEdges"/>
<text x="1691.8" y="155" font-size="9" fill="#fff" text-anchor="start" font-weight="normal"  textLength="32.5" lengthAdjust="spacingAndGlyphs">1.21545</text>
<rect x="1687" y="166" width="41" height="11" fill="#000000" shape-rendering="crispEdges"/>
<text x="1691.8" y="175" font-size="9" fill="#fff" text-anchor="start" font-weight="normal"  textLength="32.5" lengthAdjust="spacingAndGlyphs">1.21179</text>
<rect x="1687" y="179" width="41" height="11" fill="#ffa500" shape-rendering="crispEdges"/>
<text x="1691.8" y="188" font-size="9" fill="#fff" text-anchor="start" font-weight="normal"  textLength="32.5" lengthAdjust="spacingAndGlyphs">1.20906</text>
<rect x="1687" y="197" width="41" height="11" fill="#0000ff" shape-rendering="crispEdges"/>
<text x="1691.8" y="206" font-size="9" fill="#fff" text-anchor="start" font-weight="normal"  textLength="32.5" lengthAdjust="spacingAndGlyphs">1.20566</text>
<rect x="1687" y="217" width="41" height="11" fill="#0000ff" shape-rendering="crispEdges"/>
<text x="1691.8" y="226" font-size="9" fill="#fff" text-anchor="start" font-weight="normal"  textLength="32.5" lengthAdjust="spacingAndGlyphs">1.20187</text>
<text x="1689" y="588.8" font-size="9" fill="#000" text-anchor="start" font-weight="normal" >0.014706</text>
<text x="1689" y="706.8" font-size="9" fill="#000" text-anchor="start" font-weight="normal" >0.00</text>
<text x="1689" y="744.3" font-size="9" fill="#000" text-anchor="start" font-weight="normal" >-0.005113</text>
<rect x="1686" y="704" width="2" height="1" fill="#000" shape-rendering="crispEdges"/>
<text x="1688.6" y="760.5" font-size="9" fill="#000" text-anchor="start" font-weight="normal" >100</text>
<text x="1688.6" y="789" font-size="9" fill="#000" text-anchor="start" font-weight="normal" >80</text>
<text x="1688.6" y="840" font-size="9" fill="#000" text-anchor="start" font-weight="normal" >50</text>
<text x="1688.6" y="901" font-size="9" fill="#000" text-anchor="start" font-weight="normal" >15</text>
<text x="1688.6" y="920" font-size="9" fill="#000" text-anchor="start" font-weight="normal" >0</text>
<text x="0.3" y="591" font-size="9" fill="#000" text-anchor="start" font-weight="normal"  textLength="152.5" lengthAdjust="spacingAndGlyphs">MACD(12,26,9) -0.002223 -0.002834</text>
<text x="0.3" y="763" font-size="9" fill="#000" text-anchor="start" font-weight="normal"  textLength="66" lengthAdjust="spacingAndGlyphs">RSI(14) 51.6581</text>
<g shape-rendering="crispEdges">
<rect x="59" y="925" width="1" height="3" fill="#000" />
<rect x="123" y="925" width="1" height="3" fill="#000" />
<rect x="187" y="925" width="1" height="3" fill="#000" />
<rect x="251" y="925" width="1" height="3" fill="#000" />
<rect x="315" y="925" width="1" height="3" fill="#000" />
<rect x="379" y="925" width="1" height="3" fill="#000" />
<rect x="443" y="925" width="1" height="3" fill="#000" />
<rect x="507" y="925" width="1" height="3" fill="#000" />
<rect x="571" y="925" width="1" height="3" fill="#000" />
<rect x="635" y="925" width="1" height="3" fill="#000" />
<rect x="699" y="925" width="1" height="3" fill="#000" />
<rect x="763" y="925" width="1" height="3" fill="#000" />
<rect x="827" y="925" width="1" height="3" fill="#000" />
<rect x="891" y="925" width="1" height="3" fill="#000" />
<rect x="955" y="925" width="1" height="3" fill="#000" />
<rect x="1019" y="925" width="1" height="3" fill="#000" />
<rect x="1083" y="925" width="1" height="3" fill="#000" />
<rect x="1147" y="925" width="1" height="3" fill="#000" />
<rect x="1211" y="925" width="1" height="3" fill="#000" />
<rect x="1275" y="925" width="1" height="3" fill="#000" />
<rect x="1339" y="925" width="1" height="3" fill="#000" />
<rect x="1403" y="925" width="1" height="3" fill="#000" />
</g>
<text x="-6.2" y="936.6" font-size="9.2" fill="#000" text-anchor="start" font-weight="normal" >15 Jul 2020</text>
<text x="57.8" y="936.6" font-size="9.2" fill="#000" text-anchor="start" font-weight="normal" >24 Jul 2020</text>
<text x="121.8" y="936.6" font-size="9.2" fill="#000" text-anchor="start" font-weight="normal" >3 Aug 2020</text>
<text x="185.8" y="936.6" font-size="9.2" fill="#000" text-anchor="start" font-weight="normal" >12 Aug 2020</text>
<text x="249.8" y="936.6" font-size="9.2" fill="#000" text-anchor="start" font-weight="normal" >21 Aug 2020</text>
<text x="313.8" y="936.6" font-size="9.2" fill="#000" text-anchor="start" font-weight="normal" >31 Aug 2020</text>
<text x="377.8" y="936.6" font-size="9.2" fill="#000" text-anchor="start" font-weight="normal" >9 Sep 2020</text>
<text x="441.8" y="936.6" font-size="9.2" fill="#000" text-anchor="start" font-weight="normal" >18 Sep 2020</text>
<text x="505.8" y="936.6" font-size="9.2" fill="#000" text-anchor="start" font-weight="normal" >28 Sep 2020</text>
<text x="569.8" y="936.6" font-size="9.2" fill="#000" text-anchor="start" font-weight="normal" >7 Oct 2020</text>
<text x="633.8" y="936.6" font-size="9.2" fill="#000" text-anchor="start" font-weight="normal" >16 Oct 2020</text>
<text x="697.8" y="936.6" font-size="9.2" fill="#000" text-anchor="start" font-weight="normal" >26 Oct 2020</text>
<text x="761.8" y="936.6" font-size="9.2" fill="#000" text-anchor="start" font-weight="normal" >4 Nov 2020</text>
<text x="825.8" y="936.6" font-size="9.2" fill="#000" text-anchor="start" font-weight="normal" >13 Nov 2020</text>
<text x="889.8" y="936.6" font-size="9.2" fill="#000" text-anchor="start" font-weight="normal" >23 Nov 2020</text>
<text x="953.8" y="936.6" font-size="9.2" fill="#000" text-anchor="start" font-weight="normal" >2 Dec 2020</text>
<text x="1017.8" y="936.6" font-size="9.2" fill="#000" text-anchor="start" font-weight="normal" >11 Dec 2020</text>
<text x="1081.8" y="936.6" font-size="9.2" fill="#000" text-anchor="start" font-weight="normal" >21 Dec 2020</text>
<text x="1145.8" y="936.6" font-size="9.2" fill="#000" text-anchor="start" font-weight="normal" >31 Dec 2020</text>
<text x="1209.8" y="936.6" font-size="9.2" fill="#000" text-anchor="start" font-weight="normal" >11 Jan 2021</text>
<text x="1273.8" y="936.6" font-size="9.2" fill="#000" text-anchor="start" font-weight="normal" >20 Jan 2021</text>
<text x="1337.8" y="936.6" font-size="9.2" fill="#000" text-anchor="start" font-weight="normal" >29 Jan 2021</text>
<text x="1401.8" y="936.6" font-size="9.2" fill="#000" text-anchor="start" font-weight="normal" >8 Feb 2021</text>
<polygon points="0,34 2.5,30 5.5,34" fill="#000"/>
<text x="10.5" y="35" font-size="9" fill="#000" text-anchor="start" font-weight="normal"  textLength="66" lengthAdjust="spacingAndGlyphs">EURUSD-,Daily</text>
<text x="83" y="35" font-size="9" fill="#000" text-anchor="start" font-weight="normal"  textLength="141" lengthAdjust="spacingAndGlyphs">1.21158 1.21433 1.21080 1.21179</text>
<polygon points="1425,24 1437,24 1431,29" fill="#c0c0c0"/>
<g id="toolbar">
<rect x="46" y="0" width="1" height="16" fill="#a0a0a0" shape-rendering="crispEdges"/>
<rect x="47" y="0" width="1" height="16" fill="#ffffff" shape-rendering="crispEdges"/>
<rect x="282" y="0" width="1" height="16" fill="#a0a0a0" shape-rendering="crispEdges"/>
<rect x="283" y="0" width="1" height="16" fill="#ffffff" shape-rendering="crispEdges"/>
<rect x="320" y="0" width="1" height="16" fill="#a0a0a0" shape-rendering="crispEdges"/>
<rect x="321" y="0" width="1" height="16" fill="#ffffff" shape-rendering="crispEdges"/>
<rect x="377" y="0" width="1" height="16" fill="#a0a0a0" shape-rendering="crispEdges"/>
<rect x="378" y="0" width="1" height="16" fill="#ffffff" shape-rendering="crispEdges"/>
<rect x="467" y="0" width="1" height="16" fill="#a0a0a0" shape-rendering="crispEdges"/>
<rect x="468" y="0" width="1" height="16" fill="#ffffff" shape-rendering="crispEdges"/>
<rect x="472" y="0" width="1" height="16" fill="#a0a0a0" shape-rendering="crispEdges"/>
<rect x="473" y="0" width="1" height="16" fill="#ffffff" shape-rendering="crispEdges"/>
<rect x="500" y="0" width="1" height="16" fill="#a0a0a0" shape-rendering="crispEdges"/>
<rect x="501" y="0" width="1" height="16" fill="#ffffff" shape-rendering="crispEdges"/>
<rect x="529" y="0" width="1" height="16" fill="#a0a0a0" shape-rendering="crispEdges"/>
<rect x="530" y="0" width="1" height="16" fill="#ffffff" shape-rendering="crispEdges"/>
<rect x="650" y="0" width="1" height="16" fill="#a0a0a0" shape-rendering="crispEdges"/>
<rect x="651" y="0" width="1" height="16" fill="#ffffff" shape-rendering="crispEdges"/>
<rect x="660" y="0" width="1" height="16" fill="#a0a0a0" shape-rendering="crispEdges"/>
<rect x="661" y="0" width="1" height="16" fill="#ffffff" shape-rendering="crispEdges"/>
<rect x="717" y="0" width="1" height="16" fill="#a0a0a0" shape-rendering="crispEdges"/>
<rect x="718" y="0" width="1" height="16" fill="#ffffff" shape-rendering="crispEdges"/>
<rect x="956" y="0" width="1" height="16" fill="#a0a0a0" shape-rendering="crispEdges"/>
<rect x="957" y="0" width="1" height="16" fill="#ffffff" shape-rendering="crispEdges"/>
<rect x="1134" y="0" width="1" height="16" fill="#a0a0a0" shape-rendering="crispEdges"/>
<rect x="1135" y="0" width="1" height="16" fill="#ffffff" shape-rendering="crispEdges"/>
<rect x="1217" y="0" width="1" height="16" fill="#a0a0a0" shape-rendering="crispEdges"/>
<rect x="1218" y="0" width="1" height="16" fill="#ffffff" shape-rendering="crispEdges"/>
<rect x="286" y="1" width="3" height="1" fill="#b0b0b0" shape-rendering="crispEdges"/>
<rect x="286" y="3" width="3" height="1" fill="#b0b0b0" shape-rendering="crispEdges"/>
<rect x="286" y="5" width="3" height="1" fill="#b0b0b0" shape-rendering="crispEdges"/>
<rect x="286" y="7" width="3" height="1" fill="#b0b0b0" shape-rendering="crispEdges"/>
<rect x="286" y="9" width="3" height="1" fill="#b0b0b0" shape-rendering="crispEdges"/>
<rect x="286" y="11" width="3" height="1" fill="#b0b0b0" shape-rendering="crispEdges"/>
<rect x="286" y="13" width="3" height="1" fill="#b0b0b0" shape-rendering="crispEdges"/>
<rect x="286" y="15" width="3" height="1" fill="#b0b0b0" shape-rendering="crispEdges"/>
<rect x="653" y="1" width="3" height="1" fill="#b0b0b0" shape-rendering="crispEdges"/>
<rect x="653" y="3" width="3" height="1" fill="#b0b0b0" shape-rendering="crispEdges"/>
<rect x="653" y="5" width="3" height="1" fill="#b0b0b0" shape-rendering="crispEdges"/>
<rect x="653" y="7" width="3" height="1" fill="#b0b0b0" shape-rendering="crispEdges"/>
<rect x="653" y="9" width="3" height="1" fill="#b0b0b0" shape-rendering="crispEdges"/>
<rect x="653" y="11" width="3" height="1" fill="#b0b0b0" shape-rendering="crispEdges"/>
<rect x="653" y="13" width="3" height="1" fill="#b0b0b0" shape-rendering="crispEdges"/>
<rect x="653" y="15" width="3" height="1" fill="#b0b0b0" shape-rendering="crispEdges"/>
<rect x="960" y="1" width="3" height="1" fill="#b0b0b0" shape-rendering="crispEdges"/>
<rect x="960" y="3" width="3" height="1" fill="#b0b0b0" shape-rendering="crispEdges"/>
<rect x="960" y="5" width="3" height="1" fill="#b0b0b0" shape-rendering="crispEdges"/>
<rect x="960" y="7" width="3" height="1" fill="#b0b0b0" shape-rendering="crispEdges"/>
<rect x="960" y="9" width="3" height="1" fill="#b0b0b0" shape-rendering="crispEdges"/>
<rect x="960" y="11" width="3" height="1" fill="#b0b0b0" shape-rendering="crispEdges"/>
<rect x="960" y="13" width="3" height="1" fill="#b0b0b0" shape-rendering="crispEdges"/>
<rect x="960" y="15" width="3" height="1" fill="#b0b0b0" shape-rendering="crispEdges"/>
<rect x="322" y="0" width="24" height="17" fill="#f8f8f8" />
<rect x="474" y="0" width="25" height="17" fill="#f8f8f8" />
<rect x="502" y="0" width="26" height="17" fill="#f8f8f8" />
<rect x="662" y="0" width="24" height="17" fill="#f8f8f8" />
<rect x="1136" y="0" width="24" height="17" fill="#f8f8f8" />
<rect x="-2" y="-3" width="10.2" height="16.3" fill="#fff" stroke="#3c78c8" stroke-width="1.3" rx="1"/>
<line x1="0" y1="4" x2="7" y2="4" stroke="#a8c0e8" stroke-width="1" />
<line x1="0" y1="7" x2="7" y2="7" stroke="#a8c0e8" stroke-width="1" />
<line x1="0" y1="10" x2="7" y2="10" stroke="#a8c0e8" stroke-width="1" />
<rect x="22" y="-3" width="11" height="16" fill="#fff" stroke="#b0a890" stroke-width="1"/>
<path d="M25.5,1 v7 M31,1 v7 M24,3 h3 M29.5,5 h3" fill="none" stroke="#909090" stroke-width="1"/>
<circle cx="29.7" cy="8" r="5" fill="#d0e4f8" fill-opacity="0.8" stroke="#5a96dc" stroke-width="1.3"/>
<line x1="33.7" y1="12" x2="38" y2="16" stroke="#c89a20" stroke-width="2.4" />
<path d="M57,-2 L65,-2 L68,1 L68,12 L57,12 Z" fill="#fff" stroke="#909090" stroke-width="1"/>
<line x1="59" y1="3" x2="64" y2="3" stroke="#808080" stroke-width="1" />
<line x1="59" y1="6" x2="64" y2="6" stroke="#808080" stroke-width="1" />
<line x1="59" y1="9" x2="62" y2="9" stroke="#808080" stroke-width="1" />
<path d="M64.5,5 h4 v4 h4 v4 h-4 v4 h-4 v-4 h-4 v-4 h4 z" fill="#18c018" stroke="#108010" stroke-width="0.8"/>
<defs><linearGradient id="gold" x1="0" y1="0" x2="1" y2="1"><stop offset="0" stop-color="#fbe678"/><stop offset="0.6" stop-color="#e8b424"/><stop offset="1" stop-color="#b87c10"/></linearGradient>
<linearGradient id="cloud" x1="0" y1="0" x2="0" y2="1"><stop offset="0" stop-color="#ffffff"/><stop offset="1" stop-color="#c4d0e6"/></linearGradient>
<linearGradient id="hat" x1="0" y1="0" x2="0" y2="1"><stop offset="0" stop-color="#7cc4ee"/><stop offset="1" stop-color="#3c94d4"/></linearGradient>
<linearGradient id="sigg" x1="0" y1="0" x2="1" y2="0"><stop offset="0.45" stop-color="#ffffff" stop-opacity="0"/><stop offset="1" stop-color="#78b078" stop-opacity="0.9"/></linearGradient></defs>
<path d="M128.5,-1 L139,7.6 L130,15 L123,9.5 Z" fill="url(#gold)" stroke="#a87410" stroke-width="1"/>
<path d="M130,15 L139,7.6 L138.4,6.4 L129.6,13.4 Z" fill="#fff2c8" stroke="#b88818" stroke-width="0.5"/>
<path d="M153.2,-1 L158,-1 L158,8.5 L153.2,8.5 Z" fill="#1688ee"/>
<path d="M158,-1 L163.8,-1 L163.8,8.5 L158,8.5 Z" fill="#34a8f8"/>
<rect x="158.6" y="3.6" width="4" height="1.2" fill="#fff" />
<path d="M153.5,14.8 a3.2,3.2 0 0 1 -0.6,-6.2 a3.6,3.6 0 0 1 6.6,-1.2 a3,3 0 0 1 4.4,1.6 a2.9,2.9 0 0 1 0.4,5.8 z" fill="url(#cloud)" stroke="#5c7cb4" stroke-width="1"/>
<circle cx="186.9" cy="6.3" r="7.6" fill="url(#sigg)"/>
<path d="M186.9,-1.3 A7.6,7.6 0 0 0 186.9,13.9" fill="none" stroke="#88a8e0" stroke-width="1"/>
<path d="M186.9,1 A5.3,5.3 0 0 0 186.9,11.6" fill="none" stroke="#6890d8" stroke-width="1.1"/>
<path d="M186.9,3.3 A3,3 0 0 0 186.9,9.3" fill="none" stroke="#4878d0" stroke-width="1.1"/>
<path d="M186.9,-1.3 A7.6,7.6 0 0 1 186.9,13.9" fill="none" stroke="#78a878" stroke-width="1.2"/>
<path d="M186.9,2 A4.3,4.3 0 0 1 186.9,10.6" fill="none" stroke="#a8c8a8" stroke-width="1"/>
<circle cx="186.9" cy="6.3" r="1.7" fill="#2858c8"/>
<line x1="187.6" y1="7" x2="187.6" y2="14.6" stroke="#20a020" stroke-width="1.8" />
<path d="M206.3,6 L222,6 L216,12.5 L213.2,15 L210,12 Z" fill="#f8dc50" stroke="#d0a828" stroke-width="0.8"/>
<ellipse cx="213.9" cy="3.8" rx="8.1" ry="2.6" fill="url(#hat)" stroke="#3a86c4" stroke-width="0.7"/>
<path d="M210.8,3.4 L212,-3 L216,-3 L217.2,3.4 Z" fill="#6cb8e8"/>
<circle cx="218.3" cy="10.5" r="4.2" fill="#dc2414"/>
<rect x="216.9" y="9.1" width="2.9" height="2.9" fill="#fff" />
<line x1="300.3" y1="1.5" x2="300.3" y2="14.5" stroke="#505050" stroke-width="1.05" />
<line x1="297.5" y1="12.5" x2="311.5" y2="12.5" stroke="#505050" stroke-width="1.05" />
<path d="M298.9,3.2 L300.3,1.2 L301.7,3.2 M309.8,11.1 L311.6,12.5 L309.8,13.9" fill="none" stroke="#505050" stroke-width="0.9"/>
<path d="M304.8,9.5 h2.2 V3 h2.2" fill="none" stroke="#109010" stroke-width="1.5"/>
<line x1="328.3" y1="1.5" x2="328.3" y2="14.5" stroke="#505050" stroke-width="1.05" />
<line x1="325.5" y1="12.5" x2="339.5" y2="12.5" stroke="#505050" stroke-width="1.05" />
<path d="M326.9,3.2 L328.3,1.2 L329.7,3.2 M337.8,11.1 L339.6,12.5 L337.8,13.9" fill="none" stroke="#505050" stroke-width="0.9"/>
<line x1="334.5" y1="0" x2="334.5" y2="10.8" stroke="#108010" stroke-width="1" />
<rect x="332.5" y="1.5" width="4" height="7.5" fill="#10e010" stroke="#108010" stroke-width="1"/>
<line x1="356.3" y1="1.5" x2="356.3" y2="14.5" stroke="#505050" stroke-width="1.05" />
<line x1="353.5" y1="12.5" x2="367.5" y2="12.5" stroke="#505050" stroke-width="1.05" />
<path d="M354.9,3.2 L356.3,1.2 L357.7,3.2 M365.8,11.1 L367.6,12.5 L365.8,13.9" fill="none" stroke="#505050" stroke-width="0.9"/>
<path d="M356,10 Q361,0.5 366.5,8.5" fill="none" stroke="#208020" stroke-width="1.3"/>
<circle cx="392" cy="5" r="5.3" fill="#d8ecfc" stroke="#4888d8" stroke-width="1.3"/>
<line x1="396" y1="9" x2="401" y2="14" stroke="#d0a020" stroke-width="2.6" />
<line x1="389" y1="5" x2="395" y2="5" stroke="#3070c0" stroke-width="1.6" />
<line x1="392" y1="2" x2="392" y2="8" stroke="#3070c0" stroke-width="1.6" />
<circle cx="420" cy="5" r="5.3" fill="#d8ecfc" stroke="#4888d8" stroke-width="1.3"/>
<line x1="424" y1="9" x2="429" y2="14" stroke="#d0a020" stroke-width="2.6" />
<line x1="417" y1="5" x2="423" y2="5" stroke="#3070c0" stroke-width="1.6" />
<rect x="442" y="-2" width="8" height="8" fill="#40b030" />
<rect x="451" y="-2" width="8" height="8" fill="#2860d0" />
<rect x="442" y="7" width="8" height="8" fill="#2860d0" />
<rect x="451" y="7" width="8" height="8" fill="#40b030" />
<rect x="443.5" y="3" width="5" height="1.5" fill="#fff" />
<rect x="452.5" y="3" width="5" height="1.5" fill="#fff" />
<rect x="443.5" y="11.5" width="5" height="1.5" fill="#fff" />
<rect x="452.5" y="11.5" width="5" height="1.5" fill="#fff" />
<line x1="480.3" y1="1.5" x2="480.3" y2="14.5" stroke="#505050" stroke-width="1.05" />
<line x1="477.5" y1="12.5" x2="491.5" y2="12.5" stroke="#505050" stroke-width="1.05" />
<path d="M478.9,3.2 L480.3,1.2 L481.7,3.2 M489.8,11.1 L491.6,12.5 L489.8,13.9" fill="none" stroke="#505050" stroke-width="0.9"/>
<path d="M485.3,3.3 L489.2,7 L485.3,10.6 Z" fill="#20d020" stroke="#108010" stroke-width="0.8"/>
<line x1="508.3" y1="1.5" x2="508.3" y2="14.5" stroke="#505050" stroke-width="1.05" />
<line x1="505.5" y1="12.5" x2="519.5" y2="12.5" stroke="#505050" stroke-width="1.05" />
<path d="M506.9,3.2 L508.3,1.2 L509.7,3.2 M517.8,11.1 L519.6,12.5 L517.8,13.9" fill="none" stroke="#505050" stroke-width="0.9"/>
<line x1="514.3" y1="1" x2="514.3" y2="11.5" stroke="#2060c0" stroke-width="1.3" />
<path d="M520,6.5 h-4.5 M518,4.3 l-2.7,2.2 l2.7,2.2" fill="none" stroke="#d04010" stroke-width="1.2"/>
<path d="M539.5,-2 L547,-2 L550.5,1.5 L550.5,12 L539.5,12 Z" fill="#fff" stroke="#909090" stroke-width="1"/>
<path d="M547.5,5 h4 v4 h4 v4 h-4 v4 h-4 v-4 h-4 v-4 h4 z" fill="#18c018" stroke="#108010" stroke-width="0.8"/>
<polygon points="561,6 567,6 564,9.5" fill="#000"/>
<polygon points="600,6 606,6 603,9.5" fill="#000"/>
<polygon points="639,6 645,6 642,9.5" fill="#000"/>
<polygon points="945,6 951,6 948,9.5" fill="#000"/>
<circle cx="585" cy="7" r="7.2" fill="#e8f0fc" stroke="#2868d8" stroke-width="2"/>
<path d="M585,3 V7.5 H588.5" fill="none" stroke="#606060" stroke-width="1.1"/>
<rect x="616.5" y="-1" width="15" height="14" fill="#fff" stroke="#3870d0" stroke-width="1.2"/>
<rect x="617" y="-1" width="14" height="2" fill="#3870d0" />
<path d="M618.5,6 l3,-1 l3,1 l4,-2" fill="none" stroke="#a03010" stroke-width="1.1"/>
<path d="M618.5,11 l3,-1.5 l3,1.5 l4,-2.5" fill="none" stroke="#209030" stroke-width="1.1"/>
<path d="M668,-1 L668,11 L671,8.5 L673.5,14 L675.5,13 L673,7.8 L677,7.5 Z" fill="#404040"/>
<line x1="700.5" y1="0" x2="700.5" y2="15" stroke="#404040" stroke-width="1" />
<line x1="693" y1="7.5" x2="708" y2="7.5" stroke="#404040" stroke-width="1" />
<line x1="734.5" y1="1" x2="734.5" y2="14" stroke="#404040" stroke-width="1.2" />
<line x1="757" y1="7.5" x2="769" y2="7.5" stroke="#404040" stroke-width="1.2" />
<line x1="785" y1="14" x2="797" y2="2" stroke="#404040" stroke-width="1.2" />
<path d="M811,10 L824,1 M812,13 L825,5 M814,5 V13 M818,2 V11 M822,0 V8" fill="none" stroke="#505050" stroke-width="1"/>
<text x="822.5" y="15.8" font-size="7" fill="#303030" text-anchor="start" font-weight="bold" >E</text>
<line x1="840" y1="0.5" x2="853" y2="0.5" stroke="#505050" stroke-width="1" stroke-dasharray="1,1"/>
<line x1="840" y1="3.5" x2="853" y2="3.5" stroke="#505050" stroke-width="1" stroke-dasharray="1,1"/>
<line x1="840" y1="7.5" x2="853" y2="7.5" stroke="#505050" stroke-width="1" stroke-dasharray="1,1"/>
<line x1="840" y1="11.5" x2="853" y2="11.5" stroke="#505050" stroke-width="1" stroke-dasharray="1,1"/>
<text x="850" y="15.8" font-size="7" fill="#303030" text-anchor="start" font-weight="bold" >F</text>
<text x="870" y="12" font-size="13" fill="#505050" text-anchor="start" font-weight="normal" >A</text>
<rect x="897.5" y="1.5" width="11" height="12" fill="none" stroke="#606060" stroke-width="1" stroke-dasharray="1,1"/>
<text x="899" y="12" font-size="11" fill="#505050" text-anchor="start" font-weight="bold" >T</text>
<path d="M927,1 L930.5,4.5 L927,5.5 L924,4 Z M935,9 L938,11 L935,14 L932,11.5 Z" fill="#505050"/>
<path d="M926,8 L929,11 L935,4" fill="none" stroke="#505050" stroke-width="1.3"/>
<text x="971" y="11" font-size="9.5" fill="#404040" text-anchor="start" font-weight="normal" >M1</text>
<text x="999" y="11" font-size="9.5" fill="#404040" text-anchor="start" font-weight="normal" >M5</text>
<text x="1025.5" y="11" font-size="9.5" fill="#404040" text-anchor="start" font-weight="normal" >M15</text>
<text x="1053.5" y="11" font-size="9.5" fill="#404040" text-anchor="start" font-weight="normal" >M30</text>
<text x="1084.5" y="11" font-size="9.5" fill="#404040" text-anchor="start" font-weight="normal" >H1</text>
<text x="1111.5" y="11" font-size="9.5" fill="#404040" text-anchor="start" font-weight="normal" >H4</text>
<text x="1140.5" y="11" font-size="9.5" fill="#404040" text-anchor="start" font-weight="normal" >D1</text>
<text x="1168" y="11" font-size="9.5" fill="#404040" text-anchor="start" font-weight="normal" >W1</text>
<text x="1194.5" y="11" font-size="9.5" fill="#404040" text-anchor="start" font-weight="normal" >MN</text>
<circle cx="1687.6" cy="4.2" r="3.6" fill="#f4f4ff" stroke="#2060d8" stroke-width="1.3"/>
<line x1="1684.8" y1="7.2" x2="1680.3" y2="11.8" stroke="#2060d8" stroke-width="2.2" />
<path d="M1704.5,9 a5.5,4.5 0 0 1 11,0 a5.5,4.5 0 0 1 -6,4.4 l-2.5,2.2 l0.3,-2.8 a5,4.5 0 0 1 -2.8,-3.8 z" fill="#e0e4f0" stroke="#a8a8a8" stroke-width="1"/>
<circle cx="1718.6" cy="4.6" r="8.3" fill="#e03a20"/>
<text x="1718.3" y="9" font-size="12.5" fill="#fff" text-anchor="middle" font-weight="bold" font-family="Liberation Serif, serif">1</text>
<path d="M75.5,1.3 H80.5 M75,4.5 H81.5 M78.5,4.5 V11 M76.6,6.5 L75.6,9.5 M80.3,6.5 L81.3,9 M77,-1 L78,1 M82.5,4.3 H88 M83.7,1 V8 L82.3,11 M86.5,4.3 V11 M83.7,1 L87.5,0" fill="none" stroke="#000" stroke-width="1.1" stroke-linecap="square"/>
<path d="M88.8,0.4 L90.4,2.2 M88.3,4.3 H90 V9.6 L91.8,7.6 M91.2,1.4 H98.8 M95.7,1.4 V10.5 H93" fill="none" stroke="#000" stroke-width="1.1" stroke-linecap="square"/>
<path d="M100.8,2.6 H109.4 V6.4 H100.8 Z M100.8,4.6 H109.4 M104.9,1 V11 M99,8.5 H111 M102,-1 L103.3,1 M108,-1 L106.7,1" fill="none" stroke="#000" stroke-width="1.1" stroke-linecap="square"/>
<path d="M228.8,0 V10.5 M237.3,0 V10.5 M228.8,1.5 H237.3 M228.8,3.9 H237.3 M228.8,6.5 H237.3 M228.8,9.5 H237.3" fill="none" stroke="#000" stroke-width="1.1" stroke-linecap="square"/>
<path d="M240,1.4 H244.5 M239.5,4.2 H245.5 M242.5,4.2 L240.3,9.2 L244.8,8.6 M244,6.8 L245.3,9.6 M245.8,2.7 H250.4 M249.6,2.7 V10 L248.2,10.3 M247.5,-1 L247.5,3 Q247.5,8 245.5,10.5" fill="none" stroke="#000" stroke-width="1.1" stroke-linecap="square"/>
<path d="M251.5,2.4 H262.5 M257,0 V2.4 M254.6,4.4 L252.6,6.6 M258.8,4.4 L261.4,6.6 M259.8,6.6 L252,10.6 M254.6,6.6 L262,10.6" fill="none" stroke="#000" stroke-width="1.1" stroke-linecap="square"/>
<path d="M265.3,-1 V4.3 H273.3 V-1 M265.3,0.3 H273.3 M265.3,2.2 H273.3 M265,6 H273.8 V10 L271.5,10.5 M266.5,5 L264,8 M268.8,6.3 L265.3,10.5 M271.3,6.3 L268.3,10.5" fill="none" stroke="#000" stroke-width="1.1" stroke-linecap="square"/>
</g>
<defs><linearGradient id="bg1" x1="0" y1="0" x2="0" y2="1"><stop offset="0" stop-color="#5a5af6"/><stop offset="1" stop-color="#2c2cdc"/></linearGradient>
<linearGradient id="bg2" x1="0" y1="0" x2="0" y2="1"><stop offset="0" stop-color="#2c2cdc"/><stop offset="0.55" stop-color="#1010c4"/><stop offset="1" stop-color="#0000a8"/></linearGradient>
<linearGradient id="gb" x1="0" y1="0" x2="0" y2="1"><stop offset="0" stop-color="#f0f0f0"/><stop offset="1" stop-color="#cfcfcf"/></linearGradient></defs>
<rect x="0" y="43" width="50" height="25" fill="url(#bg1)" />
<rect x="166" y="43" width="51" height="25" fill="url(#bg1)" />
<rect x="0" y="67" width="107" height="40" fill="url(#bg2)" />
<rect x="109.5" y="67" width="107.5" height="40" fill="url(#bg2)" />
<rect x="2" y="67" width="44" height="1" fill="#8080e8" />
<rect x="169" y="67" width="44" height="1" fill="#8080e8" />
<text x="10.6" y="58.6" font-size="11" fill="#fff" text-anchor="start" font-weight="normal" textLength="25.3" lengthAdjust="spacingAndGlyphs">SELL</text>
<text x="190" y="58.6" font-size="11.3" fill="#fff" text-anchor="middle" font-weight="normal" >BUY</text>
<rect x="52.5" y="43.5" width="112" height="21" fill="#fff" stroke="#a8a8a8" stroke-width="1" rx="1.5"/>
<rect x="53.5" y="44.5" width="19.5" height="19" fill="url(#gb)" stroke="#b4b4b4" stroke-width="0.8"/>
<rect x="142" y="44.5" width="20" height="19" fill="url(#gb)" stroke="#b4b4b4" stroke-width="0.8"/>
<polygon points="60,52 65.5,52 62.7,55.5" fill="#4860b0"/>
<polygon points="149,55 154.5,55 151.7,51.5" fill="#4860b0"/>
<text x="137.6" y="58.3" font-size="11.8" fill="#202020" text-anchor="end" font-weight="normal" >1.00</text>
<text x="18.4" y="97.7" font-size="12" fill="#fff" text-anchor="start" font-weight="bold" textLength="23.4" lengthAdjust="spacingAndGlyphs">1.21</text>
<text x="45.5" y="98.4" font-size="33.5" fill="#fff" text-anchor="start" font-weight="normal" letter-spacing="-1.5">17</text>
<text x="85" y="81.8" font-size="10.5" fill="#fff" text-anchor="start" font-weight="bold" >9</text>
<text x="128.4" y="97.7" font-size="12" fill="#fff" text-anchor="start" font-weight="bold" textLength="23.4" lengthAdjust="spacingAndGlyphs">1.21</text>
<text x="156.5" y="98.4" font-size="33.5" fill="#fff" text-anchor="start" font-weight="normal" letter-spacing="-1.5">19</text>
<text x="196.3" y="81.8" font-size="10.5" fill="#fff" text-anchor="start" font-weight="bold" >5</text>
<path d="M1446.5,211.5 L1438.5,217.5 M1444.5,213.5 L1453.5,213.5 L1439.5,222.5 M1446.5,217.5 L1448.5,219.5 L1439.5,225.5 M1445.5,221.5 L1454.5,221.5 L1437.5,229.5 M1446.5,224.5 L1448.5,226.5" fill="none" stroke="#00ff00" stroke-width="1.25"/>
<path d="M1466.5,211.5 L1468.5,213.5 M1460.5,216.5 L1460.5,214.5 L1477.5,214.5 L1476.5,216.5 M1466.5,216.5 L1460.5,221.5 M1470.5,216.5 L1476.5,220.5 M1462.5,222.5 L1475.5,222.5 M1468.5,222.5 L1468.5,228.5 M1459.5,228.5 L1477.5,228.5" fill="none" stroke="#00ff00" stroke-width="1.25"/>
<path d="M1481.5,215.5 L1489.5,215.5 M1484.5,211.5 L1482.5,220.5 L1490.5,220.5 M1485.5,216.5 L1485.5,230.5 M1481.5,225.5 L1490.5,223.5 M1490.5,214.5 L1499.5,214.5 M1489.5,219.5 L1500.5,219.5 M1494.5,211.5 L1493.5,223.5 L1498.5,223.5 L1494.5,226.5 M1494.5,225.5 L1497.5,229.5" fill="none" stroke="#00ff00" stroke-width="1.25"/>
<path d="M1503.5,216.5 L1509.5,216.5 M1507.5,211.5 L1507.5,229.5 L1504.5,228.5 M1503.5,222.5 L1509.5,220.5 M1521.5,212.5 L1512.5,214.5 L1512.5,223.5 L1509.5,229.5 M1512.5,218.5 L1522.5,218.5 M1517.5,218.5 L1517.5,229.5" fill="none" stroke="#00ff00" stroke-width="1.25"/>
<path d="M1534.5,211.5 L1534.5,218.5 M1534.5,214.5 L1542.5,214.5 M1529.5,218.5 L1540.5,218.5 L1540.5,224.5 L1529.5,224.5 L1529.5,218.5 M1528.5,226.5 L1526.5,229.5 M1531.5,226.5 L1532.5,229.5 M1536.5,226.5 L1538.5,229.5 M1541.5,226.5 L1543.5,229.5" fill="none" stroke="#00ff00" stroke-width="1.25"/>
</svg>
</body></html>
